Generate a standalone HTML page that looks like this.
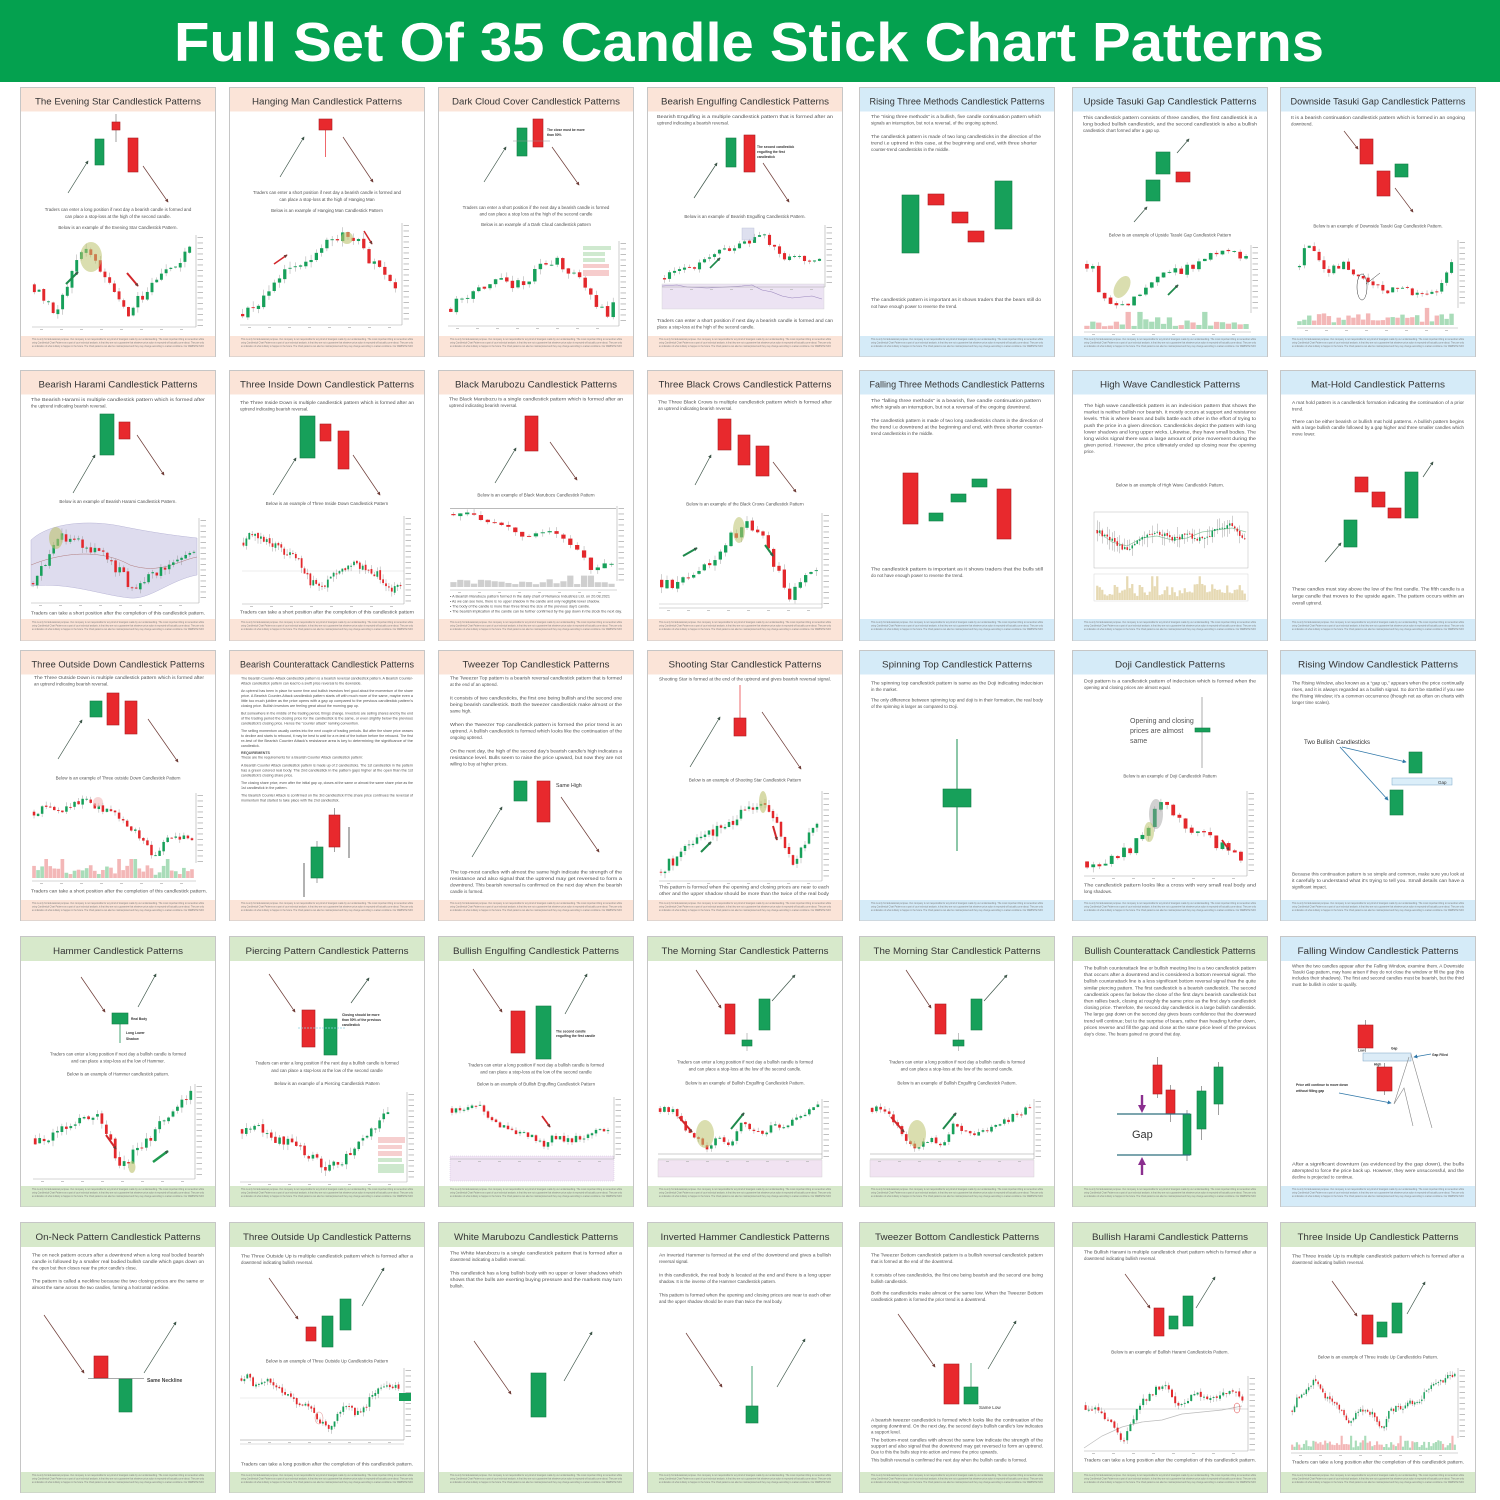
<!DOCTYPE html>
<html><head><meta charset="utf-8"><style>
html,body{margin:0;padding:0;background:#fff}
svg{display:block}
.tt{font-family:"Liberation Sans",sans-serif;font-size:9.6px;fill:#353535;text-anchor:middle}
.p{font-family:"Liberation Sans",sans-serif;font-size:4.4px;fill:#525252}
.pc{font-family:"Liberation Sans",sans-serif;font-size:4.4px;fill:#525252;text-anchor:middle}
.ps{font-family:"Liberation Sans",sans-serif;font-size:3.6px;fill:#525252}
.ft{font-family:"Liberation Sans",sans-serif;font-size:2.6px;fill:#7d7d7d}
.an{font-family:"Liberation Sans",sans-serif;font-size:3.3px;fill:#333;font-weight:bold}
.cb{fill:#fff;stroke:#c6c6c6;stroke-width:1}
.g{fill:#17a05a;stroke:#127c45;stroke-width:.6}
.r{fill:#e8292d;stroke:#a91d20;stroke-width:.6}
.w{stroke:#777;stroke-width:.7}
.au{stroke:#3c5548;stroke-width:.7;fill:none;marker-end:url(#mu)}
.ad{stroke:#6e3b36;stroke-width:.7;fill:none;marker-end:url(#md)}
.ab{stroke:#2f77a8;stroke-width:.8;fill:none;marker-end:url(#mb)}
</style></head><body>
<svg width="1500" height="1500" viewBox="0 0 1500 1500" xmlns="http://www.w3.org/2000/svg">
<defs>
<marker id="mu" viewBox="0 0 6 6" refX="5" refY="3" markerWidth="3.5" markerHeight="3.5" markerUnits="userSpaceOnUse" orient="auto"><path d="M0,0L6,3L0,6z" fill="#3c5548"/></marker>
<marker id="md" viewBox="0 0 6 6" refX="5" refY="3" markerWidth="3.5" markerHeight="3.5" markerUnits="userSpaceOnUse" orient="auto"><path d="M0,0L6,3L0,6z" fill="#6e3b36"/></marker>
<marker id="mb" viewBox="0 0 6 6" refX="5" refY="3" markerWidth="4" markerHeight="4" markerUnits="userSpaceOnUse" orient="auto"><path d="M0,0L6,3L0,6z" fill="#2f77a8"/></marker>
</defs>
<rect x="0" y="0" width="1500" height="1500" fill="#fff"/>
<rect x="0" y="0" width="1500" height="82" fill="#04a14f"/>
<text x="174" y="61" font-family="Liberation Sans, sans-serif" font-weight="bold" font-size="55" fill="#fff" textLength="1150" lengthAdjust="spacingAndGlyphs">Full Set Of 35 Candle Stick Chart Patterns</text>

<!-- ================= ROW 0 ================= -->
<!-- R0C0 Evening Star -->
<g transform="translate(20,87)">
<rect class="cb" x="0.5" y="0.5" width="195" height="269"/>
<rect fill="#fbe4d8" x="1" y="1" width="194" height="23.5"/>
<rect fill="#fbe4d8" x="1" y="249" width="194" height="20.5"/>
<text class="tt" x="98" y="17.5" textLength="166" lengthAdjust="spacingAndGlyphs">The Evening Star Candlestick Patterns</text>
<rect class="g" x="75" y="52" width="9" height="26"/>
<line class="w" x1="96" y1="27" x2="96" y2="55"/>
<rect class="r" x="92" y="35" width="8" height="8"/>
<rect class="r" x="108" y="51" width="10" height="34"/>
<line class="au" x1="48" y1="106" x2="68" y2="74"/>
<line class="ad" x1="123" y1="79" x2="148" y2="115"/>
<text class="pc" x="98" y="124">Traders can enter a long position if next day a bearish candle is formed and</text>
<text class="pc" x="98" y="131">can place a stop-loss at the high of the second candle.</text>
<text class="pc" x="98" y="142">Below is an example of the Evening Star Candlestick Pattern.</text>
<g id="k00"></g>
<ellipse cx="71" cy="170" rx="11" ry="15" fill="#bcc26e" opacity=".55"/>
<path d="M46,197 L58,185" stroke="#1f8a4c" stroke-width="2" marker-end="url(#mu)"/>
<path d="M107,186 L118,199" stroke="#d2272b" stroke-width="2" marker-end="url(#md)"/>
<text class="ft" x="12" y="253" textLength="172" lengthAdjust="spacingAndGlyphs">This is only for Educational purpose. Our company is not responsible for any kind of loss/gain made by our understanding. The most important thing to remember while</text>
<text class="ft" x="12" y="256.5" textLength="172" lengthAdjust="spacingAndGlyphs">using Candlestick Chart Patterns as a part of your technical analysis, is that they are not a guarantee that whatever price action is expected will actually come about. They are only</text>
<text class="ft" x="12" y="260" textLength="172" lengthAdjust="spacingAndGlyphs">an indication of what is likely to happen in the future. The Chart patterns can also be misinterpreted and they may change according to market conditions. Our WEBSITE INFO</text>
</g>

<!-- R0C1 Hanging Man -->
<g transform="translate(229,87)">
<rect class="cb" x="0.5" y="0.5" width="195" height="269"/>
<rect fill="#fbe4d8" x="1" y="1" width="194" height="23.5"/>
<rect fill="#fbe4d8" x="1" y="249" width="194" height="20.5"/>
<text class="tt" x="98" y="17.5" textLength="150" lengthAdjust="spacingAndGlyphs">Hanging Man Candlestick Patterns</text>
<line class="w" x1="96.5" y1="43" x2="96.5" y2="70" style="stroke:#e8292d"/>
<rect class="r" x="90" y="32" width="13" height="11"/>
<line class="au" x1="51" y1="90" x2="75" y2="50"/>
<line class="ad" x1="114" y1="50" x2="144" y2="95"/>
<text class="pc" x="98" y="107">Traders can enter a short position if next day a bearish candle is formed and</text>
<text class="pc" x="98" y="114">can place a stop-loss at the high of Hanging Man</text>
<text class="pc" x="98" y="125">Below is an example of Hanging Man Candlestick Pattern</text>
<g id="k01"></g>
<ellipse cx="118" cy="151" rx="6" ry="6" fill="#bcc26e" opacity=".6"/>
<path d="M45,177 L58,168" stroke="#d2272b" stroke-width="1.5" marker-end="url(#md)"/>
<path d="M135,144 L143,157" stroke="#d2272b" stroke-width="1.5" marker-end="url(#md)"/>
<text class="ft" x="12" y="253" textLength="172" lengthAdjust="spacingAndGlyphs">This is only for Educational purpose. Our company is not responsible for any kind of loss/gain made by our understanding. The most important thing to remember while</text>
<text class="ft" x="12" y="256.5" textLength="172" lengthAdjust="spacingAndGlyphs">using Candlestick Chart Patterns as a part of your technical analysis, is that they are not a guarantee that whatever price action is expected will actually come about. They are only</text>
<text class="ft" x="12" y="260" textLength="172" lengthAdjust="spacingAndGlyphs">an indication of what is likely to happen in the future. The Chart patterns can also be misinterpreted and they may change according to market conditions. Our WEBSITE INFO</text>
</g>

<!-- R0C2 Dark Cloud -->
<g transform="translate(438,87)">
<rect class="cb" x="0.5" y="0.5" width="195" height="269"/>
<rect fill="#fbe4d8" x="1" y="1" width="194" height="23.5"/>
<rect fill="#fbe4d8" x="1" y="249" width="194" height="20.5"/>
<text class="tt" x="98" y="17.5" textLength="168" lengthAdjust="spacingAndGlyphs">Dark Cloud Cover Candlestick Patterns</text>
<rect class="g" x="79" y="41" width="10" height="28"/>
<rect class="r" x="95" y="32" width="10" height="28"/>
<line x1="75" y1="54" x2="112" y2="54" stroke="#999" stroke-width=".6"/>
<text class="an" x="109" y="44">The close must be more</text>
<text class="an" x="109" y="49">than 50%</text>
<line class="au" x1="46" y1="95" x2="68" y2="60"/>
<line class="ad" x1="114" y1="60" x2="141" y2="98"/>
<text class="pc" x="98" y="122">Traders can enter a short position if the next day a bearish candle is formed</text>
<text class="pc" x="98" y="128.5">and can place a stop loss at the high of the second candle</text>
<text class="pc" x="98" y="139">Below is an example of a Dark Cloud candlestick pattern</text>
<g id="k02"></g>
<rect x="145" y="159" width="28" height="4" fill="#cfe9cf"/><rect x="145" y="165" width="22" height="4" fill="#cfe9cf"/><rect x="145" y="171" width="22" height="4" fill="#cfe9cf"/><rect x="145" y="177" width="26" height="4" fill="#f6cccc"/><rect x="145" y="183" width="26" height="6" fill="#f6cccc"/>
<text class="ft" x="12" y="253" textLength="172" lengthAdjust="spacingAndGlyphs">This is only for Educational purpose. Our company is not responsible for any kind of loss/gain made by our understanding. The most important thing to remember while</text>
<text class="ft" x="12" y="256.5" textLength="172" lengthAdjust="spacingAndGlyphs">using Candlestick Chart Patterns as a part of your technical analysis, is that they are not a guarantee that whatever price action is expected will actually come about. They are only</text>
<text class="ft" x="12" y="260" textLength="172" lengthAdjust="spacingAndGlyphs">an indication of what is likely to happen in the future. The Chart patterns can also be misinterpreted and they may change according to market conditions. Our WEBSITE INFO</text>
</g>

<!-- R0C3 Bearish Engulfing -->
<g transform="translate(647,87)">
<rect class="cb" x="0.5" y="0.5" width="195" height="269"/>
<rect fill="#fbe4d8" x="1" y="1" width="194" height="23.5"/>
<rect fill="#fbe4d8" x="1" y="249" width="194" height="20.5"/>
<text class="tt" x="98" y="17.5" textLength="168" lengthAdjust="spacingAndGlyphs">Bearish Engulfing Candlestick Patterns</text>
<text class="p" x="10" y="31" textLength="176" lengthAdjust="spacingAndGlyphs">Bearish Engulfing is a multiple candlestick pattern that is formed after an</text>
<text class="p" x="10" y="37.5">uptrend indicating a bearish reversal.</text>
<rect class="g" x="79" y="51" width="10" height="29"/>
<rect class="r" x="97" y="48" width="11" height="37"/>
<text class="an" x="110" y="61">The second candlestick</text>
<text class="an" x="110" y="66">engulfing the first</text>
<text class="an" x="110" y="71">candlestick</text>
<line class="au" x1="47" y1="111" x2="70" y2="76"/>
<line class="ad" x1="116" y1="76" x2="142" y2="115"/>
<text class="pc" x="98" y="131">Below is an example of Bearish Engulfing Candlestick Pattern.</text>
<rect x="15" y="197" width="162" height="25" fill="#ece3f3" stroke="#cfcfcf" stroke-width=".4"/>
<polyline points="15,199 30,198 40,200 60,201 80,200 95,199 105,198 115,203 125,205 135,209 145,211 155,210 165,209 175,212" fill="none" stroke="#9a86bd" stroke-width=".6"/>
<g id="k03"></g>
<rect x="95" y="141" width="12" height="12" fill="#c9cde6" opacity=".6" stroke="#8890b8" stroke-width=".4"/>
<path d="M63,181 L73,171" stroke="#1f8a4c" stroke-width="1.6" marker-end="url(#mu)"/>
<text class="p" x="10" y="235" textLength="176" lengthAdjust="spacingAndGlyphs">Traders can enter a short position if next day a bearish candle is formed and can</text>
<text class="p" x="10" y="241.5">place a stop-loss at the high of the second candle.</text>
<text class="ft" x="12" y="253" textLength="172" lengthAdjust="spacingAndGlyphs">This is only for Educational purpose. Our company is not responsible for any kind of loss/gain made by our understanding. The most important thing to remember while</text>
<text class="ft" x="12" y="256.5" textLength="172" lengthAdjust="spacingAndGlyphs">using Candlestick Chart Patterns as a part of your technical analysis, is that they are not a guarantee that whatever price action is expected will actually come about. They are only</text>
<text class="ft" x="12" y="260" textLength="172" lengthAdjust="spacingAndGlyphs">an indication of what is likely to happen in the future. The Chart patterns can also be misinterpreted and they may change according to market conditions. Our WEBSITE INFO</text>
</g>

<!-- R0C4 Rising Three Methods -->
<g transform="translate(859,87)">
<rect class="cb" x="0.5" y="0.5" width="195" height="269"/>
<rect fill="#d5ebf8" x="1" y="1" width="194" height="23.5"/>
<rect fill="#d5ebf8" x="1" y="249" width="194" height="20.5"/>
<text class="tt" x="98" y="17.5" textLength="175" lengthAdjust="spacingAndGlyphs">Rising Three Methods Candlestick Patterns</text>
<text class="p" x="12" y="31" textLength="170" lengthAdjust="spacingAndGlyphs">The “rising three methods” is a bullish, five candle continuation pattern which</text>
<text class="p" x="12" y="37.5">signals an interruption, but not a reversal, of the ongoing uptrend.</text>
<text class="p" x="12" y="51" textLength="170" lengthAdjust="spacingAndGlyphs">The candlestick pattern is made of two long candlesticks in the direction of the</text>
<text class="p" x="12" y="57.5" textLength="166" lengthAdjust="spacingAndGlyphs">trend i.e uptrend in this case, at the beginning and end, with three shorter</text>
<text class="p" x="12" y="64">counter-trend candlesticks in the middle.</text>
<rect class="g" x="43" y="108" width="17" height="58"/>
<rect class="r" x="69" y="107" width="16" height="11"/>
<rect class="r" x="93" y="125" width="16" height="11"/>
<rect class="r" x="109" y="144" width="16" height="11"/>
<rect class="g" x="136" y="94" width="17" height="48"/>
<text class="p" x="12" y="214" textLength="170" lengthAdjust="spacingAndGlyphs">The candlestick pattern is important as it shows traders that the bears still do</text>
<text class="p" x="12" y="221">not have enough power to reverse the trend.</text>
<text class="ft" x="12" y="253" textLength="172" lengthAdjust="spacingAndGlyphs">This is only for Educational purpose. Our company is not responsible for any kind of loss/gain made by our understanding. The most important thing to remember while</text>
<text class="ft" x="12" y="256.5" textLength="172" lengthAdjust="spacingAndGlyphs">using Candlestick Chart Patterns as a part of your technical analysis, is that they are not a guarantee that whatever price action is expected will actually come about. They are only</text>
<text class="ft" x="12" y="260" textLength="172" lengthAdjust="spacingAndGlyphs">an indication of what is likely to happen in the future. The Chart patterns can also be misinterpreted and they may change according to market conditions. Our WEBSITE INFO</text>
</g>

<!-- R0C5 Upside Tasuki Gap -->
<g transform="translate(1072,87)">
<rect class="cb" x="0.5" y="0.5" width="195" height="269"/>
<rect fill="#d5ebf8" x="1" y="1" width="194" height="23.5"/>
<rect fill="#d5ebf8" x="1" y="249" width="194" height="20.5"/>
<text class="tt" x="98" y="17.5" textLength="173" lengthAdjust="spacingAndGlyphs">Upside Tasuki Gap Candlestick Patterns</text>
<text class="p" x="11" y="32" textLength="174" lengthAdjust="spacingAndGlyphs">This candlestick pattern consists of three candles, the first candlestick is a</text>
<text class="p" x="11" y="38.5" textLength="174" lengthAdjust="spacingAndGlyphs">long bodied bullish candlestick, and the second candlestick is also a bullish</text>
<text class="p" x="11" y="45">candlestick chart formed after a gap up.</text>
<rect class="g" x="74" y="93" width="14" height="21"/>
<rect class="g" x="84" y="65" width="14" height="22"/>
<rect class="r" x="104" y="85" width="14" height="10"/>
<line class="au" x1="62" y1="135" x2="75" y2="120"/>
<line class="au" x1="105" y1="66" x2="117" y2="52"/>
<text class="pc" x="98" y="149.5">Below is an example of Upside Tasuki Gap Candlestick Pattern</text>
<g id="k05"></g>
<ellipse cx="50" cy="200" rx="7" ry="12" transform="rotate(30 50 200)" fill="#bcc26e" opacity=".55"/>
<path d="M96,208 L106,198" stroke="#1f8a4c" stroke-width="1.8" marker-end="url(#mu)"/>
<text class="ft" x="12" y="253" textLength="172" lengthAdjust="spacingAndGlyphs">This is only for Educational purpose. Our company is not responsible for any kind of loss/gain made by our understanding. The most important thing to remember while</text>
<text class="ft" x="12" y="256.5" textLength="172" lengthAdjust="spacingAndGlyphs">using Candlestick Chart Patterns as a part of your technical analysis, is that they are not a guarantee that whatever price action is expected will actually come about. They are only</text>
<text class="ft" x="12" y="260" textLength="172" lengthAdjust="spacingAndGlyphs">an indication of what is likely to happen in the future. The Chart patterns can also be misinterpreted and they may change according to market conditions. Our WEBSITE INFO</text>
</g>

<!-- R0C6 Downside Tasuki Gap -->
<g transform="translate(1280,87)">
<rect class="cb" x="0.5" y="0.5" width="195" height="269"/>
<rect fill="#d5ebf8" x="1" y="1" width="194" height="23.5"/>
<rect fill="#d5ebf8" x="1" y="249" width="194" height="20.5"/>
<text class="tt" x="98" y="17.5" textLength="175" lengthAdjust="spacingAndGlyphs">Downside Tasuki Gap Candlestick Patterns</text>
<text class="p" x="11" y="32" textLength="174" lengthAdjust="spacingAndGlyphs">It is a bearish continuation candlestick pattern which is formed in an ongoing</text>
<text class="p" x="11" y="38.5">downtrend.</text>
<rect class="r" x="80" y="52" width="13" height="25"/>
<rect class="r" x="97" y="84" width="13" height="25"/>
<rect class="g" x="115" y="77" width="13" height="13"/>
<line class="ad" x1="64" y1="44" x2="78" y2="62"/>
<line class="ad" x1="115" y1="101" x2="133" y2="125"/>
<text class="pc" x="98" y="140.5">Below is an example of Downside Tasuki Gap Candlestick Pattern.</text>
<g id="k06"></g>
<ellipse cx="82" cy="200" rx="5" ry="13" fill="none" stroke="#333" stroke-width=".5"/>
<line x1="86" y1="197" x2="100" y2="186" stroke="#333" stroke-width=".5"/>
<text class="ft" x="12" y="253" textLength="172" lengthAdjust="spacingAndGlyphs">This is only for Educational purpose. Our company is not responsible for any kind of loss/gain made by our understanding. The most important thing to remember while</text>
<text class="ft" x="12" y="256.5" textLength="172" lengthAdjust="spacingAndGlyphs">using Candlestick Chart Patterns as a part of your technical analysis, is that they are not a guarantee that whatever price action is expected will actually come about. They are only</text>
<text class="ft" x="12" y="260" textLength="172" lengthAdjust="spacingAndGlyphs">an indication of what is likely to happen in the future. The Chart patterns can also be misinterpreted and they may change according to market conditions. Our WEBSITE INFO</text>
</g>

<!-- ================= ROW 1 ================= -->
<!-- R1C0 Bearish Harami -->
<g transform="translate(20,370)">
<rect class="cb" x="0.5" y="0.5" width="195" height="270"/>
<rect fill="#fbe4d8" x="1" y="1" width="194" height="23.5"/>
<rect fill="#fbe4d8" x="1" y="249" width="194" height="21.5"/>
<text class="tt" x="98" y="17.5" textLength="159" lengthAdjust="spacingAndGlyphs">Bearish Harami Candlestick Patterns</text>
<text class="p" x="11" y="31" textLength="174" lengthAdjust="spacingAndGlyphs">The Bearish Harami is multiple candlestick pattern which is formed after</text>
<text class="p" x="11" y="37.5">the uptrend indicating bearish reversal.</text>
<rect class="g" x="80" y="44" width="14" height="41"/>
<rect class="r" x="99" y="52" width="11" height="17"/>
<line class="au" x1="53" y1="123" x2="75" y2="85"/>
<line class="ad" x1="117" y1="65" x2="144" y2="105"/>
<text class="pc" x="98" y="133">Below is an example of Bearish Harami Candlestick Pattern.</text>
<path d="M11,170 C30,152 70,150 100,156 C130,162 150,165 177,168 L177,205 C150,210 130,230 110,228 C80,225 50,212 11,216 Z" fill="#dedcee" stroke="#b8b5d6" stroke-width=".5"/>
<path d="M11,195 C40,183 80,178 110,195 C140,205 160,190 177,187" fill="none" stroke="#b07a7a" stroke-width=".5"/>
<g id="k10"></g>
<ellipse cx="36" cy="168" rx="7" ry="11" fill="#bcc26e" opacity=".6"/>
<text class="p" x="11" y="244.5" textLength="174" lengthAdjust="spacingAndGlyphs">Traders can take a short position after the completion of this candlestick pattern.</text>
<text class="ft" x="12" y="253" textLength="172" lengthAdjust="spacingAndGlyphs">This is only for Educational purpose. Our company is not responsible for any kind of loss/gain made by our understanding. The most important thing to remember while</text>
<text class="ft" x="12" y="256.5" textLength="172" lengthAdjust="spacingAndGlyphs">using Candlestick Chart Patterns as a part of your technical analysis, is that they are not a guarantee that whatever price action is expected will actually come about. They are only</text>
<text class="ft" x="12" y="260" textLength="172" lengthAdjust="spacingAndGlyphs">an indication of what is likely to happen in the future. The Chart patterns can also be misinterpreted and they may change according to market conditions. Our WEBSITE INFO</text>
</g>

<!-- R1C1 Three Inside Down -->
<g transform="translate(229,370)">
<rect class="cb" x="0.5" y="0.5" width="195" height="270"/>
<rect fill="#fbe4d8" x="1" y="1" width="194" height="23.5"/>
<rect fill="#fbe4d8" x="1" y="249" width="194" height="21.5"/>
<text class="tt" x="98" y="17.5" textLength="174" lengthAdjust="spacingAndGlyphs">Three Inside Down Candlestick Patterns</text>
<text class="p" x="11" y="34" textLength="174" lengthAdjust="spacingAndGlyphs">The Three Inside Down is multiple candlestick pattern which is formed after an</text>
<text class="p" x="11" y="40.5">uptrend indicating bearish reversal.</text>
<rect class="g" x="71" y="46" width="15" height="42"/>
<rect class="r" x="91" y="54" width="11" height="17"/>
<rect class="r" x="109" y="61" width="11" height="38"/>
<line class="au" x1="44" y1="125" x2="67" y2="88"/>
<line class="ad" x1="124" y1="85" x2="151" y2="125"/>
<text class="pc" x="98" y="135">Below is an example of Three Inside Down Candlestick Pattern</text>
<line x1="13" y1="201" x2="175" y2="201" stroke="#ddd" stroke-width=".5"/>
<g id="k11"></g>
<text class="p" x="11" y="243.5" textLength="174" lengthAdjust="spacingAndGlyphs">Traders can take a short position after the completion of this candlestick pattern</text>
<text class="ft" x="12" y="253" textLength="172" lengthAdjust="spacingAndGlyphs">This is only for Educational purpose. Our company is not responsible for any kind of loss/gain made by our understanding. The most important thing to remember while</text>
<text class="ft" x="12" y="256.5" textLength="172" lengthAdjust="spacingAndGlyphs">using Candlestick Chart Patterns as a part of your technical analysis, is that they are not a guarantee that whatever price action is expected will actually come about. They are only</text>
<text class="ft" x="12" y="260" textLength="172" lengthAdjust="spacingAndGlyphs">an indication of what is likely to happen in the future. The Chart patterns can also be misinterpreted and they may change according to market conditions. Our WEBSITE INFO</text>
</g>

<!-- R1C2 Black Marubozu -->
<g transform="translate(438,370)">
<rect class="cb" x="0.5" y="0.5" width="195" height="270"/>
<rect fill="#fbe4d8" x="1" y="1" width="194" height="23.5"/>
<rect fill="#fbe4d8" x="1" y="249" width="194" height="21.5"/>
<text class="tt" x="98" y="17.5" textLength="162" lengthAdjust="spacingAndGlyphs">Black Marubozu Candlestick Patterns</text>
<text class="p" x="11" y="30.5" textLength="174" lengthAdjust="spacingAndGlyphs">The Black Marubozu is a single candlestick pattern which is formed after an</text>
<text class="p" x="11" y="37">uptrend indicating bearish reversal.</text>
<rect class="r" x="87" y="46" width="13" height="35"/>
<line class="au" x1="57" y1="113" x2="78" y2="78"/>
<line class="ad" x1="112" y1="72" x2="139" y2="110"/>
<text class="pc" x="98" y="126.5">Below is an example of Black Marubozu Candlestick Pattern</text>
<line x1="12" y1="138.5" x2="178" y2="138.5" stroke="#777" stroke-width=".5"/>
<g id="k12"></g>
<text class="ps" x="12" y="227.5" textLength="160" lengthAdjust="spacingAndGlyphs">• A Bearish Marubozu pattern formed in the daily chart of Reliance Industries Ltd. on 20.08.2021</text>
<text class="ps" x="12" y="232.5" textLength="150" lengthAdjust="spacingAndGlyphs">• As we can see here, there is no upper shadow in the candle and only negligible lower shadow.</text>
<text class="ps" x="12" y="237.5" textLength="140" lengthAdjust="spacingAndGlyphs">• The body of the candle is more than three times the size of the previous day's candle.</text>
<text class="ps" x="12" y="242.5" textLength="172" lengthAdjust="spacingAndGlyphs">• The bearish implication of the candle can be further confirmed by the gap down in the stock the next day.</text>
<text class="ft" x="12" y="253" textLength="172" lengthAdjust="spacingAndGlyphs">This is only for Educational purpose. Our company is not responsible for any kind of loss/gain made by our understanding. The most important thing to remember while</text>
<text class="ft" x="12" y="256.5" textLength="172" lengthAdjust="spacingAndGlyphs">using Candlestick Chart Patterns as a part of your technical analysis, is that they are not a guarantee that whatever price action is expected will actually come about. They are only</text>
<text class="ft" x="12" y="260" textLength="172" lengthAdjust="spacingAndGlyphs">an indication of what is likely to happen in the future. The Chart patterns can also be misinterpreted and they may change according to market conditions. Our WEBSITE INFO</text>
</g>

<!-- R1C3 Three Black Crows -->
<g transform="translate(647,370)">
<rect class="cb" x="0.5" y="0.5" width="195" height="270"/>
<rect fill="#fbe4d8" x="1" y="1" width="194" height="23.5"/>
<rect fill="#fbe4d8" x="1" y="249" width="194" height="21.5"/>
<text class="tt" x="98" y="17.5" textLength="173" lengthAdjust="spacingAndGlyphs">Three Black Crows Candlestick Patterns</text>
<text class="p" x="11" y="33.5" textLength="174" lengthAdjust="spacingAndGlyphs">The Three Black Crows is multiple candlestick pattern which is formed after</text>
<text class="p" x="11" y="40">an uptrend indicating bearish reversal.</text>
<rect class="r" x="71" y="49" width="13" height="31"/>
<rect class="r" x="91" y="65" width="12" height="30"/>
<rect class="r" x="109" y="76" width="13" height="30"/>
<line class="au" x1="48" y1="115" x2="64" y2="85"/>
<line class="ad" x1="126" y1="92" x2="149" y2="122"/>
<text class="pc" x="98" y="135.5">Below is an example of the Black Crows Candlestick Pattern</text>
<line x1="12" y1="234" x2="175" y2="234" stroke="#aaa" stroke-width=".4"/>
<g id="k13"></g>
<ellipse cx="92" cy="160" rx="6" ry="13" fill="#bcc26e" opacity=".55"/>
<path d="M36,186 L50,178" stroke="#1f8a4c" stroke-width="2" marker-end="url(#mu)"/>
<path d="M118,175 L126,186" stroke="#1f8a4c" stroke-width="2" marker-end="url(#mu)"/>
<text class="ft" x="12" y="253" textLength="172" lengthAdjust="spacingAndGlyphs">This is only for Educational purpose. Our company is not responsible for any kind of loss/gain made by our understanding. The most important thing to remember while</text>
<text class="ft" x="12" y="256.5" textLength="172" lengthAdjust="spacingAndGlyphs">using Candlestick Chart Patterns as a part of your technical analysis, is that they are not a guarantee that whatever price action is expected will actually come about. They are only</text>
<text class="ft" x="12" y="260" textLength="172" lengthAdjust="spacingAndGlyphs">an indication of what is likely to happen in the future. The Chart patterns can also be misinterpreted and they may change according to market conditions. Our WEBSITE INFO</text>
</g>

<!-- R1C4 Falling Three Methods -->
<g transform="translate(859,370)">
<rect class="cb" x="0.5" y="0.5" width="195" height="270"/>
<rect fill="#d5ebf8" x="1" y="1" width="194" height="23.5"/>
<rect fill="#d5ebf8" x="1" y="249" width="194" height="21.5"/>
<text class="tt" x="98" y="17.5" textLength="175" lengthAdjust="spacingAndGlyphs">Falling Three Methods Candlestick Patterns</text>
<text class="p" x="12" y="32" textLength="170" lengthAdjust="spacingAndGlyphs">The “falling three methods” is a bearish, five candle continuation pattern</text>
<text class="p" x="12" y="38.5" textLength="160" lengthAdjust="spacingAndGlyphs">which signals an interruption, but not a reversal of the ongoing downtrend.</text>
<text class="p" x="12" y="52" textLength="172" lengthAdjust="spacingAndGlyphs">The candlestick pattern is made of two long candlesticks charts in the direction of</text>
<text class="p" x="12" y="58.5" textLength="172" lengthAdjust="spacingAndGlyphs">the trend i.e downtrend at the beginning and end, with three shorter counter-</text>
<text class="p" x="12" y="65">trend candlesticks in the middle.</text>
<rect class="r" x="44" y="103" width="15" height="51"/>
<rect class="g" x="70" y="143" width="14" height="8"/>
<rect class="g" x="92" y="124" width="15" height="8"/>
<rect class="g" x="113" y="109" width="15" height="8"/>
<rect class="r" x="138" y="119" width="14" height="50"/>
<text class="p" x="12" y="200.5" textLength="172" lengthAdjust="spacingAndGlyphs">The candlestick pattern is important as it shows traders that the bulls still</text>
<text class="p" x="12" y="207">do not have enough power to reverse the trend.</text>
<text class="ft" x="12" y="253" textLength="172" lengthAdjust="spacingAndGlyphs">This is only for Educational purpose. Our company is not responsible for any kind of loss/gain made by our understanding. The most important thing to remember while</text>
<text class="ft" x="12" y="256.5" textLength="172" lengthAdjust="spacingAndGlyphs">using Candlestick Chart Patterns as a part of your technical analysis, is that they are not a guarantee that whatever price action is expected will actually come about. They are only</text>
<text class="ft" x="12" y="260" textLength="172" lengthAdjust="spacingAndGlyphs">an indication of what is likely to happen in the future. The Chart patterns can also be misinterpreted and they may change according to market conditions. Our WEBSITE INFO</text>
</g>

<!-- R1C5 High Wave -->
<g transform="translate(1072,370)">
<rect class="cb" x="0.5" y="0.5" width="195" height="270"/>
<rect fill="#d5ebf8" x="1" y="1" width="194" height="23.5"/>
<rect fill="#d5ebf8" x="1" y="249" width="194" height="21.5"/>
<text class="tt" x="98" y="17.5" textLength="140" lengthAdjust="spacingAndGlyphs">High Wave Candlestick Patterns</text>
<text class="p" x="12" y="37" textLength="172" lengthAdjust="spacingAndGlyphs">The high wave candlestick pattern is an indecision pattern that shows the</text>
<text class="p" x="12" y="43.6" textLength="172" lengthAdjust="spacingAndGlyphs">market is neither bullish nor bearish. It mostly occurs at support and resistance</text>
<text class="p" x="12" y="50.2" textLength="172" lengthAdjust="spacingAndGlyphs">levels. This is where bears and bulls battle each other in the effort of trying to</text>
<text class="p" x="12" y="56.8" textLength="172" lengthAdjust="spacingAndGlyphs">push the price in a given direction. Candlesticks depict the pattern with long</text>
<text class="p" x="12" y="63.4" textLength="172" lengthAdjust="spacingAndGlyphs">lower shadows and long upper wicks. Likewise, they have small bodies. The</text>
<text class="p" x="12" y="70" textLength="172" lengthAdjust="spacingAndGlyphs">long wicks signal there was a large amount of price movement during the</text>
<text class="p" x="12" y="76.6" textLength="172" lengthAdjust="spacingAndGlyphs">given period. However, the price ultimately ended up closing near the opening</text>
<text class="p" x="12" y="83.2">price.</text>
<text class="pc" x="98" y="116.5">Below is an example of High Wave Candlestick Pattern.</text>
<rect x="22" y="142" width="154" height="56" fill="none" stroke="#aaa" stroke-width=".4"/>
<rect x="22" y="204" width="154" height="27" fill="none" stroke="#ccc" stroke-width=".4"/>
<polyline points="24,160 40,172 55,176 70,168 85,166 100,170 115,168 130,162 145,160 160,158 174,162" fill="none" stroke="#8fc9a2" stroke-width=".7"/>
<g id="k15"></g>
<text class="ft" x="12" y="253" textLength="172" lengthAdjust="spacingAndGlyphs">This is only for Educational purpose. Our company is not responsible for any kind of loss/gain made by our understanding. The most important thing to remember while</text>
<text class="ft" x="12" y="256.5" textLength="172" lengthAdjust="spacingAndGlyphs">using Candlestick Chart Patterns as a part of your technical analysis, is that they are not a guarantee that whatever price action is expected will actually come about. They are only</text>
<text class="ft" x="12" y="260" textLength="172" lengthAdjust="spacingAndGlyphs">an indication of what is likely to happen in the future. The Chart patterns can also be misinterpreted and they may change according to market conditions. Our WEBSITE INFO</text>
</g>

<!-- R1C6 Mat-Hold -->
<g transform="translate(1280,370)">
<rect class="cb" x="0.5" y="0.5" width="195" height="270"/>
<rect fill="#d5ebf8" x="1" y="1" width="194" height="23.5"/>
<rect fill="#d5ebf8" x="1" y="249" width="194" height="21.5"/>
<text class="tt" x="98" y="17.5" textLength="134" lengthAdjust="spacingAndGlyphs">Mat-Hold Candlestick Patterns</text>
<text class="p" x="12" y="34" textLength="172" lengthAdjust="spacingAndGlyphs">A mat hold pattern is a candlestick formation indicating the continuation of a prior</text>
<text class="p" x="12" y="40.5">trend.</text>
<text class="p" x="12" y="53" textLength="172" lengthAdjust="spacingAndGlyphs">There can be either bearish or bullish mat hold patterns. A bullish pattern begins</text>
<text class="p" x="12" y="59" textLength="172" lengthAdjust="spacingAndGlyphs">with a large bullish candle followed by a gap higher and three smaller candles which</text>
<text class="p" x="12" y="65.5">move lower.</text>
<rect class="g" x="64" y="150" width="13" height="27"/>
<rect class="r" x="75" y="107" width="13" height="15"/>
<rect class="r" x="92" y="122" width="13" height="15"/>
<rect class="r" x="108" y="138" width="13" height="10"/>
<rect class="g" x="125" y="102" width="13" height="46"/>
<line class="au" x1="45" y1="192" x2="61" y2="173"/>
<line class="au" x1="143" y1="107" x2="153" y2="92"/>
<text class="p" x="12" y="220.5" textLength="172" lengthAdjust="spacingAndGlyphs">These candles must stay above the low of the first candle. The fifth candle is a</text>
<text class="p" x="12" y="227.5" textLength="172" lengthAdjust="spacingAndGlyphs">large candle that moves to the upside again. The pattern occurs within an</text>
<text class="p" x="12" y="234.5">overall uptrend.</text>
<text class="ft" x="12" y="253" textLength="172" lengthAdjust="spacingAndGlyphs">This is only for Educational purpose. Our company is not responsible for any kind of loss/gain made by our understanding. The most important thing to remember while</text>
<text class="ft" x="12" y="256.5" textLength="172" lengthAdjust="spacingAndGlyphs">using Candlestick Chart Patterns as a part of your technical analysis, is that they are not a guarantee that whatever price action is expected will actually come about. They are only</text>
<text class="ft" x="12" y="260" textLength="172" lengthAdjust="spacingAndGlyphs">an indication of what is likely to happen in the future. The Chart patterns can also be misinterpreted and they may change according to market conditions. Our WEBSITE INFO</text>
</g>

<!-- ================= ROW 2 ================= -->
<!-- R2C0 Three Outside Down -->
<g transform="translate(20,650)">
<rect class="cb" x="0.5" y="0.5" width="195" height="270"/>
<rect fill="#fbe4d8" x="1" y="1" width="194" height="23.5"/>
<rect fill="#fbe4d8" x="1" y="250" width="194" height="20.5"/>
<text class="tt" x="98" y="17.5" textLength="173" lengthAdjust="spacingAndGlyphs">Three Outside Down Candlestick Patterns</text>
<text class="p" x="14" y="29" textLength="170" lengthAdjust="spacingAndGlyphs">The Three Outside Down is multiple candlestick pattern which is formed after</text>
<text class="p" x="14" y="35.5">an uptrend indicating bearish reversal.</text>
<rect class="g" x="70" y="51" width="12" height="16"/>
<rect class="r" x="87" y="43" width="12" height="32"/>
<rect class="r" x="105" y="51" width="12" height="33"/>
<line class="au" x1="38" y1="109" x2="62" y2="70"/>
<line class="ad" x1="128" y1="69" x2="158" y2="112"/>
<text class="pc" x="98" y="129.5">Below is an example of Three outside Down Candlestick Pattern</text>
<g id="k20"></g>
<ellipse cx="78" cy="152" rx="5" ry="5" fill="#f2b9b9" opacity=".6"/>
<text class="p" x="11" y="242.5" textLength="176" lengthAdjust="spacingAndGlyphs">Traders can take a short position after the completion of this candlestick pattern.</text>
<text class="ft" x="12" y="254" textLength="172" lengthAdjust="spacingAndGlyphs">This is only for Educational purpose. Our company is not responsible for any kind of loss/gain made by our understanding. The most important thing to remember while</text>
<text class="ft" x="12" y="257.5" textLength="172" lengthAdjust="spacingAndGlyphs">using Candlestick Chart Patterns as a part of your technical analysis, is that they are not a guarantee that whatever price action is expected will actually come about. They are only</text>
<text class="ft" x="12" y="261" textLength="172" lengthAdjust="spacingAndGlyphs">an indication of what is likely to happen in the future. The Chart patterns can also be misinterpreted and they may change according to market conditions. Our WEBSITE INFO</text>
</g>

<!-- R2C1 Bearish Counterattack -->
<g transform="translate(229,650)">
<rect class="cb" x="0.5" y="0.5" width="195" height="270"/>
<rect fill="#fbe4d8" x="1" y="1" width="194" height="23.5"/>
<rect fill="#fbe4d8" x="1" y="250" width="194" height="20.5"/>
<text class="tt" x="98" y="17.5" textLength="174" lengthAdjust="spacingAndGlyphs">Bearish Counterattack Candlestick Patterns</text>
<text class="ps" x="12" y="29.5" textLength="172" lengthAdjust="spacingAndGlyphs">The Bearish Counter-Attack candlestick pattern is a bearish reversal candlestick pattern. A Bearish Counter-</text>
<text class="ps" x="12" y="34.5">Attack candlestick pattern can lead to a swift price reversal to the downside.</text>
<text class="ps" x="12" y="42" textLength="172" lengthAdjust="spacingAndGlyphs">An uptrend has been in place for some time and bullish investors feel good about the momentum of the share</text>
<text class="ps" x="12" y="47" textLength="172" lengthAdjust="spacingAndGlyphs">price. A Bearish Counter-Attack candlestick pattern starts off with much more of the same, maybe even a</text>
<text class="ps" x="12" y="52" textLength="172" lengthAdjust="spacingAndGlyphs">little too much jubilee as the price opens with a gap up compared to the previous candlestick pattern's</text>
<text class="ps" x="12" y="57">closing price. Bullish investors are feeling great about the morning gap up.</text>
<text class="ps" x="12" y="64.5" textLength="172" lengthAdjust="spacingAndGlyphs">But somewhere in the middle of the trading period, things change. Investors are selling shares and by the end</text>
<text class="ps" x="12" y="69.5" textLength="172" lengthAdjust="spacingAndGlyphs">of the trading period the closing price for the candlestick is the same, or even slightly below the previous</text>
<text class="ps" x="12" y="74.5">candlestick's closing price. Hence the "counter attack" naming convention.</text>
<text class="ps" x="12" y="82" textLength="172" lengthAdjust="spacingAndGlyphs">The selling momentum usually carries into the next couple of trading periods. But after the share price ceases</text>
<text class="ps" x="12" y="87" textLength="172" lengthAdjust="spacingAndGlyphs">to decline and starts to rebound, it may be best to wait for a re-test of the bottom before the rebound. The first</text>
<text class="ps" x="12" y="92" textLength="172" lengthAdjust="spacingAndGlyphs">re-test of the Bearish Counter Attack's resistance area is key to determining the significance of the</text>
<text class="ps" x="12" y="97">candlestick.</text>
<text class="ps" x="12" y="104" font-weight="bold">REQUIREMENTS</text>
<text class="ps" x="12" y="108.5">These are the requirements for a Bearish Counter Attack candlestick pattern:</text>
<text class="ps" x="12" y="116.5" textLength="172" lengthAdjust="spacingAndGlyphs">A Bearish Counter Attack candlestick pattern is made up of 2 candlesticks. The 1st candlestick in the pattern</text>
<text class="ps" x="12" y="121.5" textLength="172" lengthAdjust="spacingAndGlyphs">has a green colored real body. The 2nd candlestick in the pattern gaps higher at the open than the 1st</text>
<text class="ps" x="12" y="126.5">candlestick's closing share price.</text>
<text class="ps" x="12" y="134" textLength="172" lengthAdjust="spacingAndGlyphs">The closing share price, even after the initial gap up, closes at the same or almost the same share price as the</text>
<text class="ps" x="12" y="139">1st candlestick in the pattern.</text>
<text class="ps" x="12" y="146.5" textLength="172" lengthAdjust="spacingAndGlyphs">The Bearish Counter Attack is confirmed on the 3rd candlestick if the share price continues the reversal of</text>
<text class="ps" x="12" y="151.5">momentum that started to take place with the 2nd candlestick.</text>
<line class="w" x1="88" y1="191" x2="88" y2="233"/>
<rect class="g" x="82" y="197" width="12" height="31"/>
<line class="w" x1="105.5" y1="158" x2="105.5" y2="202"/>
<rect class="r" x="100" y="165" width="11" height="32"/>
<line x1="75" y1="213" x2="75" y2="247" stroke="#666" stroke-width="1"/>
<line x1="120" y1="177" x2="120" y2="208" stroke="#666" stroke-width="1"/>
<text class="ft" x="12" y="254" textLength="172" lengthAdjust="spacingAndGlyphs">This is only for Educational purpose. Our company is not responsible for any kind of loss/gain made by our understanding. The most important thing to remember while</text>
<text class="ft" x="12" y="257.5" textLength="172" lengthAdjust="spacingAndGlyphs">using Candlestick Chart Patterns as a part of your technical analysis, is that they are not a guarantee that whatever price action is expected will actually come about. They are only</text>
<text class="ft" x="12" y="261" textLength="172" lengthAdjust="spacingAndGlyphs">an indication of what is likely to happen in the future. The Chart patterns can also be misinterpreted and they may change according to market conditions. Our WEBSITE INFO</text>
</g>

<!-- R2C2 Tweezer Top -->
<g transform="translate(438,650)">
<rect class="cb" x="0.5" y="0.5" width="195" height="270"/>
<rect fill="#fbe4d8" x="1" y="1" width="194" height="23.5"/>
<rect fill="#fbe4d8" x="1" y="250" width="194" height="20.5"/>
<text class="tt" x="98" y="17.5" textLength="147" lengthAdjust="spacingAndGlyphs">Tweezer Top Candlestick Patterns</text>
<text class="p" x="12" y="29.5" textLength="172" lengthAdjust="spacingAndGlyphs">The Tweezer Top pattern is a bearish reversal candlestick pattern that is formed</text>
<text class="p" x="12" y="36">at the end of an uptrend.</text>
<text class="p" x="12" y="49.5" textLength="172" lengthAdjust="spacingAndGlyphs">It consists of two candlesticks, the first one being bullish and the second one</text>
<text class="p" x="12" y="56" textLength="172" lengthAdjust="spacingAndGlyphs">being bearish candlestick. Both the tweezer candlestick make almost or the</text>
<text class="p" x="12" y="62.5">same high.</text>
<text class="p" x="12" y="76" textLength="172" lengthAdjust="spacingAndGlyphs">When the Tweezer Top candlestick pattern is formed the prior trend is an</text>
<text class="p" x="12" y="82.5" textLength="172" lengthAdjust="spacingAndGlyphs">uptrend. A bullish candlestick is formed which looks like the continuation of the</text>
<text class="p" x="12" y="89">ongoing uptrend.</text>
<text class="p" x="12" y="102.5" textLength="172" lengthAdjust="spacingAndGlyphs">On the next day, the high of the second day's bearish candle's high indicates a</text>
<text class="p" x="12" y="109" textLength="172" lengthAdjust="spacingAndGlyphs">resistance level. Bulls seem to raise the price upward, but now they are not</text>
<text class="p" x="12" y="115.5">willing to buy at higher prices.</text>
<rect class="g" x="76" y="131" width="13" height="20"/>
<rect class="r" x="99" y="131" width="13" height="41"/>
<text x="118" y="137" font-family="Liberation Sans, sans-serif" font-size="5.2" fill="#333">Same High</text>
<line class="au" x1="34" y1="207" x2="64" y2="157"/>
<line class="ad" x1="123" y1="147" x2="161" y2="202"/>
<text class="p" x="12" y="223.5" textLength="172" lengthAdjust="spacingAndGlyphs">The top-most candles with almost the same high indicate the strength of the</text>
<text class="p" x="12" y="230" textLength="172" lengthAdjust="spacingAndGlyphs">resistance and also signal that the uptrend may get reversed to form a</text>
<text class="p" x="12" y="236.5" textLength="172" lengthAdjust="spacingAndGlyphs">downtrend. This bearish reversal is confirmed on the next day when the bearish</text>
<text class="p" x="12" y="243">candle is formed.</text>
<text class="ft" x="12" y="254" textLength="172" lengthAdjust="spacingAndGlyphs">This is only for Educational purpose. Our company is not responsible for any kind of loss/gain made by our understanding. The most important thing to remember while</text>
<text class="ft" x="12" y="257.5" textLength="172" lengthAdjust="spacingAndGlyphs">using Candlestick Chart Patterns as a part of your technical analysis, is that they are not a guarantee that whatever price action is expected will actually come about. They are only</text>
<text class="ft" x="12" y="261" textLength="172" lengthAdjust="spacingAndGlyphs">an indication of what is likely to happen in the future. The Chart patterns can also be misinterpreted and they may change according to market conditions. Our WEBSITE INFO</text>
</g>

<!-- R2C3 Shooting Star -->
<g transform="translate(647,650)">
<rect class="cb" x="0.5" y="0.5" width="195" height="270"/>
<rect fill="#fbe4d8" x="1" y="1" width="194" height="23.5"/>
<rect fill="#fbe4d8" x="1" y="250" width="194" height="20.5"/>
<text class="tt" x="98" y="17.5" textLength="153" lengthAdjust="spacingAndGlyphs">Shooting Star Candlestick Patterns</text>
<text class="p" x="12" y="30.5" textLength="172" lengthAdjust="spacingAndGlyphs">Shooting Star is formed at the end of the uptrend and gives bearish reversal signal.</text>
<line class="w" x1="93" y1="35" x2="93" y2="68" style="stroke:#e8292d"/>
<rect class="r" x="87" y="68" width="12" height="18"/>
<line class="au" x1="43" y1="117" x2="73" y2="67"/>
<line class="ad" x1="115" y1="62" x2="154" y2="119"/>
<text class="pc" x="98" y="131.5">Below is an example of Shooting Star Candlestick Pattern</text>
<g id="k23"></g>
<ellipse cx="116" cy="152" rx="4" ry="11" fill="#bcc26e" opacity=".6"/>
<path d="M54,202 L64,192" stroke="#1f8a4c" stroke-width="2" marker-end="url(#mu)"/>
<path d="M126,176 L130,190" stroke="#d2272b" stroke-width="2" marker-end="url(#md)"/>
<text class="p" x="12" y="238.5" textLength="170" lengthAdjust="spacingAndGlyphs">This pattern is formed when the opening and closing prices are near to each</text>
<text class="p" x="12" y="245" textLength="170" lengthAdjust="spacingAndGlyphs">other and the upper shadow should be more than the twice of the real body</text>
<text class="ft" x="12" y="254" textLength="172" lengthAdjust="spacingAndGlyphs">This is only for Educational purpose. Our company is not responsible for any kind of loss/gain made by our understanding. The most important thing to remember while</text>
<text class="ft" x="12" y="257.5" textLength="172" lengthAdjust="spacingAndGlyphs">using Candlestick Chart Patterns as a part of your technical analysis, is that they are not a guarantee that whatever price action is expected will actually come about. They are only</text>
<text class="ft" x="12" y="261" textLength="172" lengthAdjust="spacingAndGlyphs">an indication of what is likely to happen in the future. The Chart patterns can also be misinterpreted and they may change according to market conditions. Our WEBSITE INFO</text>
</g>

<!-- R2C4 Spinning Top -->
<g transform="translate(859,650)">
<rect class="cb" x="0.5" y="0.5" width="195" height="270"/>
<rect fill="#d5ebf8" x="1" y="1" width="194" height="23.5"/>
<rect fill="#d5ebf8" x="1" y="250" width="194" height="20.5"/>
<text class="tt" x="98" y="17.5" textLength="150" lengthAdjust="spacingAndGlyphs">Spinning Top Candlestick Patterns</text>
<text class="p" x="12" y="34.5" textLength="172" lengthAdjust="spacingAndGlyphs">The spinning top candlestick pattern is same as the Doji indicating indecision</text>
<text class="p" x="12" y="41">in the market.</text>
<text class="p" x="12" y="51.5" textLength="172" lengthAdjust="spacingAndGlyphs">The only difference between spinning top and doji is in their formation, the real body</text>
<text class="p" x="12" y="58">of the spinning is larger as compared to Doji.</text>
<line x1="98" y1="89" x2="98" y2="201" stroke="#1a8f52" stroke-width="1"/>
<rect class="g" x="84" y="139" width="28" height="18"/>
<text class="ft" x="12" y="254" textLength="172" lengthAdjust="spacingAndGlyphs">This is only for Educational purpose. Our company is not responsible for any kind of loss/gain made by our understanding. The most important thing to remember while</text>
<text class="ft" x="12" y="257.5" textLength="172" lengthAdjust="spacingAndGlyphs">using Candlestick Chart Patterns as a part of your technical analysis, is that they are not a guarantee that whatever price action is expected will actually come about. They are only</text>
<text class="ft" x="12" y="261" textLength="172" lengthAdjust="spacingAndGlyphs">an indication of what is likely to happen in the future. The Chart patterns can also be misinterpreted and they may change according to market conditions. Our WEBSITE INFO</text>
</g>

<!-- R2C5 Doji -->
<g transform="translate(1072,650)">
<rect class="cb" x="0.5" y="0.5" width="195" height="270"/>
<rect fill="#d5ebf8" x="1" y="1" width="194" height="23.5"/>
<rect fill="#d5ebf8" x="1" y="250" width="194" height="20.5"/>
<text class="tt" x="98" y="17.5" textLength="110" lengthAdjust="spacingAndGlyphs">Doji Candlestick Patterns</text>
<text class="p" x="12" y="32.5" textLength="172" lengthAdjust="spacingAndGlyphs">Doji pattern is a candlestick pattern of indecision which is formed when the</text>
<text class="p" x="12" y="39">opening and closing prices are almost equal.</text>
<text x="58" y="73" font-family="Liberation Sans, sans-serif" font-size="7" fill="#555">Opening and closing</text>
<text x="58" y="83" font-family="Liberation Sans, sans-serif" font-size="7" fill="#555">prices are almost</text>
<text x="58" y="93" font-family="Liberation Sans, sans-serif" font-size="7" fill="#555">same</text>
<line x1="130" y1="47" x2="130" y2="118" stroke="#999" stroke-width=".8"/>
<rect class="g" x="123" y="78" width="15" height="4"/>
<text class="pc" x="98" y="127.5">Below is an example of Doji Candlestick Pattern</text>
<g id="k25"></g>
<ellipse cx="84" cy="164" rx="7" ry="15" fill="#9a9a9a" opacity=".45"/>
<ellipse cx="77" cy="182" rx="5" ry="10" fill="#bcc26e" opacity=".55"/>
<path d="M150,190 L157,200" stroke="#d2272b" stroke-width="1.8" marker-end="url(#md)"/>
<text class="p" x="12" y="236.5" textLength="172" lengthAdjust="spacingAndGlyphs">The candlestick pattern looks like a cross with very small real body and</text>
<text class="p" x="12" y="243">long shadows.</text>
<text class="ft" x="12" y="254" textLength="172" lengthAdjust="spacingAndGlyphs">This is only for Educational purpose. Our company is not responsible for any kind of loss/gain made by our understanding. The most important thing to remember while</text>
<text class="ft" x="12" y="257.5" textLength="172" lengthAdjust="spacingAndGlyphs">using Candlestick Chart Patterns as a part of your technical analysis, is that they are not a guarantee that whatever price action is expected will actually come about. They are only</text>
<text class="ft" x="12" y="261" textLength="172" lengthAdjust="spacingAndGlyphs">an indication of what is likely to happen in the future. The Chart patterns can also be misinterpreted and they may change according to market conditions. Our WEBSITE INFO</text>
</g>

<!-- R2C6 Rising Window -->
<g transform="translate(1280,650)">
<rect class="cb" x="0.5" y="0.5" width="195" height="270"/>
<rect fill="#d5ebf8" x="1" y="1" width="194" height="23.5"/>
<rect fill="#d5ebf8" x="1" y="250" width="194" height="20.5"/>
<text class="tt" x="98" y="17.5" textLength="160" lengthAdjust="spacingAndGlyphs">Rising Window Candlestick Patterns</text>
<text class="p" x="12" y="34.5" textLength="172" lengthAdjust="spacingAndGlyphs">The Rising Window, also known as a “gap up,” appears when the price continually</text>
<text class="p" x="12" y="41" textLength="172" lengthAdjust="spacingAndGlyphs">rises, and it is always regarded as a bullish signal. So don't be startled if you see</text>
<text class="p" x="12" y="47.5" textLength="172" lengthAdjust="spacingAndGlyphs">the Rising Window; it's a common occurrence (though not as often on charts with</text>
<text class="p" x="12" y="54">longer time scales).</text>
<text x="24" y="94" font-family="Liberation Sans, sans-serif" font-size="6" fill="#333">Two Bullish Candlesticks</text>
<line class="ab" x1="62" y1="97" x2="126" y2="112"/>
<line class="ab" x1="60" y1="97" x2="108" y2="150"/>
<rect class="g" x="129" y="102" width="13" height="21"/>
<rect x="112" y="128" width="60" height="7" fill="#dbeef9" stroke="#7fa9c9" stroke-width=".5"/>
<text x="158" y="134" font-family="Liberation Sans, sans-serif" font-size="4.5" fill="#333">Gap</text>
<rect class="g" x="110" y="140" width="13" height="25"/>
<text class="p" x="12" y="225.5" textLength="172" lengthAdjust="spacingAndGlyphs">Because this continuation pattern is so simple and common, make sure you look at</text>
<text class="p" x="12" y="232" textLength="172" lengthAdjust="spacingAndGlyphs">it carefully to understand what it's trying to tell you. Small details can have a</text>
<text class="p" x="12" y="238.5">significant impact.</text>
<text class="ft" x="12" y="254" textLength="172" lengthAdjust="spacingAndGlyphs">This is only for Educational purpose. Our company is not responsible for any kind of loss/gain made by our understanding. The most important thing to remember while</text>
<text class="ft" x="12" y="257.5" textLength="172" lengthAdjust="spacingAndGlyphs">using Candlestick Chart Patterns as a part of your technical analysis, is that they are not a guarantee that whatever price action is expected will actually come about. They are only</text>
<text class="ft" x="12" y="261" textLength="172" lengthAdjust="spacingAndGlyphs">an indication of what is likely to happen in the future. The Chart patterns can also be misinterpreted and they may change according to market conditions. Our WEBSITE INFO</text>
</g>

<!-- ================= ROW 3 ================= -->
<!-- R3C0 Hammer -->
<g transform="translate(20,936)">
<rect class="cb" x="0.5" y="0.5" width="195" height="270"/>
<rect fill="#d7e9cb" x="1" y="1" width="194" height="24"/>
<rect fill="#d7e9cb" x="1" y="250" width="194" height="20.5"/>
<text class="tt" x="98" y="18" textLength="130" lengthAdjust="spacingAndGlyphs">Hammer Candlestick Patterns</text>
<line x1="100" y1="88" x2="100" y2="107" stroke="#1a8f52" stroke-width=".8"/>
<rect class="g" x="92" y="77" width="16" height="11"/>
<text class="an" x="111" y="84" font-weight="normal">Real Body</text>
<text class="an" x="106" y="98" font-weight="normal">Long Lower</text>
<text class="an" x="106" y="104" font-weight="normal">Shadow</text>
<line class="ad" x1="61" y1="41" x2="85" y2="76"/>
<line class="au" x1="118" y1="71" x2="136" y2="38"/>
<text class="pc" x="98" y="119.5">Traders can enter a long position if next day a bullish candle is formed</text>
<text class="pc" x="98" y="126.5">and can place a stop-loss at the low of Hammer.</text>
<text class="pc" x="98" y="139.5">Below is an example of Hammer candlestick pattern.</text>
<g id="k30"></g>
<ellipse cx="112" cy="231" rx="3.5" ry="6" fill="#bcc26e" opacity=".6"/>
<path d="M86,199 L96,213" stroke="#d2272b" stroke-width="2" marker-end="url(#md)"/>
<path d="M133,226 L148,215" stroke="#1f9a50" stroke-width="2.5" marker-end="url(#mu)"/>
<text class="ft" x="12" y="254" textLength="172" lengthAdjust="spacingAndGlyphs">This is only for Educational purpose. Our company is not responsible for any kind of loss/gain made by our understanding. The most important thing to remember while</text>
<text class="ft" x="12" y="257.5" textLength="172" lengthAdjust="spacingAndGlyphs">using Candlestick Chart Patterns as a part of your technical analysis, is that they are not a guarantee that whatever price action is expected will actually come about. They are only</text>
<text class="ft" x="12" y="261" textLength="172" lengthAdjust="spacingAndGlyphs">an indication of what is likely to happen in the future. The Chart patterns can also be misinterpreted and they may change according to market conditions. Our WEBSITE INFO</text>
</g>

<!-- R3C1 Piercing -->
<g transform="translate(229,936)">
<rect class="cb" x="0.5" y="0.5" width="195" height="270"/>
<rect fill="#d7e9cb" x="1" y="1" width="194" height="24"/>
<rect fill="#d7e9cb" x="1" y="250" width="194" height="20.5"/>
<text class="tt" x="98" y="18" textLength="163" lengthAdjust="spacingAndGlyphs">Piercing Pattern Candlestick Patterns</text>
<rect class="r" x="73" y="74" width="13" height="37"/>
<rect class="g" x="95" y="83" width="13" height="36"/>
<line x1="69" y1="92" x2="117" y2="92" stroke="#8ccfe0" stroke-width=".8" stroke-dasharray="2,1"/>
<text class="an" x="113" y="80" font-weight="normal">Closing should be more</text>
<text class="an" x="113" y="85" font-weight="normal">than 50% of the previous</text>
<text class="an" x="113" y="90" font-weight="normal">candlestick</text>
<line class="ad" x1="40" y1="38" x2="66" y2="76"/>
<line class="au" x1="122" y1="67" x2="140" y2="42"/>
<text class="pc" x="98" y="128.5">Traders can enter a long position if the next day a bullish candle is formed</text>
<text class="pc" x="98" y="136">and can place a stop-loss at the low of the second candle</text>
<text class="pc" x="98" y="149">Below is an example of a Piercing Candlestick Pattern</text>
<g id="k31"></g>
<rect x="149" y="201" width="27" height="6" fill="#f6cfcf"/><rect x="149" y="209" width="24" height="4" fill="#f6cfcf"/><rect x="149" y="215" width="24" height="5" fill="#f6cfcf"/><rect x="149" y="222" width="24" height="4" fill="#cde8cd"/><rect x="149" y="228" width="26" height="9" fill="#cde8cd"/>
<text class="ft" x="12" y="254" textLength="172" lengthAdjust="spacingAndGlyphs">This is only for Educational purpose. Our company is not responsible for any kind of loss/gain made by our understanding. The most important thing to remember while</text>
<text class="ft" x="12" y="257.5" textLength="172" lengthAdjust="spacingAndGlyphs">using Candlestick Chart Patterns as a part of your technical analysis, is that they are not a guarantee that whatever price action is expected will actually come about. They are only</text>
<text class="ft" x="12" y="261" textLength="172" lengthAdjust="spacingAndGlyphs">an indication of what is likely to happen in the future. The Chart patterns can also be misinterpreted and they may change according to market conditions. Our WEBSITE INFO</text>
</g>

<!-- R3C2 Bullish Engulfing -->
<g transform="translate(438,936)">
<rect class="cb" x="0.5" y="0.5" width="195" height="270"/>
<rect fill="#d7e9cb" x="1" y="1" width="194" height="24"/>
<rect fill="#d7e9cb" x="1" y="250" width="194" height="20.5"/>
<text class="tt" x="98" y="18" textLength="166" lengthAdjust="spacingAndGlyphs">Bullish Engulfing Candlestick Patterns</text>
<rect class="r" x="73" y="75" width="14" height="42"/>
<rect class="g" x="98" y="70" width="15" height="53"/>
<text class="an" x="118" y="96.5" font-weight="normal">The second candle</text>
<text class="an" x="118" y="101" font-weight="normal">engulfing the first candle</text>
<line class="ad" x1="35" y1="33" x2="64" y2="76"/>
<line class="au" x1="127" y1="78" x2="149" y2="38"/>
<text class="pc" x="98" y="130.5">Traders can enter a long position if next day a bullish candle is formed</text>
<text class="pc" x="98" y="137.5">and can place a stop-loss at the low of the second candle</text>
<text class="pc" x="98" y="149.5">Below is an example of Bullish Engulfing Candlestick Pattern</text>
<rect x="12" y="220" width="164" height="25" fill="#f0e4f4" stroke="#c9b8d6" stroke-width=".4" stroke-dasharray="1,1"/>
<g id="k32"></g>
<path d="M104,180 L112,191" stroke="#d2272b" stroke-width="1.8" marker-end="url(#md)"/>
<text class="ft" x="12" y="254" textLength="172" lengthAdjust="spacingAndGlyphs">This is only for Educational purpose. Our company is not responsible for any kind of loss/gain made by our understanding. The most important thing to remember while</text>
<text class="ft" x="12" y="257.5" textLength="172" lengthAdjust="spacingAndGlyphs">using Candlestick Chart Patterns as a part of your technical analysis, is that they are not a guarantee that whatever price action is expected will actually come about. They are only</text>
<text class="ft" x="12" y="261" textLength="172" lengthAdjust="spacingAndGlyphs">an indication of what is likely to happen in the future. The Chart patterns can also be misinterpreted and they may change according to market conditions. Our WEBSITE INFO</text>
</g>

<!-- R3C3 Morning Star -->
<g transform="translate(647,936)">
<rect class="cb" x="0.5" y="0.5" width="195" height="270"/>
<rect fill="#d7e9cb" x="1" y="1" width="194" height="24"/>
<rect fill="#d7e9cb" x="1" y="250" width="194" height="20.5"/>
<text class="tt" x="98" y="18" textLength="167" lengthAdjust="spacingAndGlyphs">The Morning Star Candlestick Patterns</text>
<rect class="r" x="78" y="68" width="10" height="30"/>
<line x1="100" y1="97" x2="100" y2="115" stroke="#999" stroke-width=".6"/>
<rect class="g" x="95" y="104" width="10" height="6"/>
<rect class="g" x="112" y="63" width="11" height="31"/>
<line class="ad" x1="49" y1="34" x2="74" y2="72"/>
<line class="au" x1="125" y1="65" x2="148" y2="39"/>
<text class="pc" x="98" y="127.5">Traders can enter a long position if next day a bullish candle is formed</text>
<text class="pc" x="98" y="134.5">and can place a stop-loss at the low of the second candle.</text>
<text class="pc" x="98" y="148.5">Below is an example of Bullish Engulfing Candlestick Pattern.</text>
<rect x="11" y="224" width="164" height="17" fill="#f1e3f2" stroke="#ccc" stroke-width=".4"/>
<line x1="11" y1="218" x2="175" y2="218" stroke="#999" stroke-width=".5"/>
<g id="k33"></g>
<ellipse cx="58" cy="198" rx="9" ry="14" fill="#bcc26e" opacity=".55"/>
<path d="M32,181 L45,196" stroke="#d2272b" stroke-width="2" marker-end="url(#md)"/>
<path d="M84,193 L97,177" stroke="#1f8a4c" stroke-width="2" marker-end="url(#mu)"/>
<text class="ft" x="12" y="254" textLength="172" lengthAdjust="spacingAndGlyphs">This is only for Educational purpose. Our company is not responsible for any kind of loss/gain made by our understanding. The most important thing to remember while</text>
<text class="ft" x="12" y="257.5" textLength="172" lengthAdjust="spacingAndGlyphs">using Candlestick Chart Patterns as a part of your technical analysis, is that they are not a guarantee that whatever price action is expected will actually come about. They are only</text>
<text class="ft" x="12" y="261" textLength="172" lengthAdjust="spacingAndGlyphs">an indication of what is likely to happen in the future. The Chart patterns can also be misinterpreted and they may change according to market conditions. Our WEBSITE INFO</text>
</g>

<!-- R3C4 Morning Star (2) -->
<g transform="translate(859,936)">
<rect class="cb" x="0.5" y="0.5" width="195" height="270"/>
<rect fill="#d7e9cb" x="1" y="1" width="194" height="24"/>
<rect fill="#d7e9cb" x="1" y="250" width="194" height="20.5"/>
<text class="tt" x="98" y="18" textLength="167" lengthAdjust="spacingAndGlyphs">The Morning Star Candlestick Patterns</text>
<rect class="r" x="76" y="68" width="11" height="30"/>
<line x1="99.5" y1="97" x2="99.5" y2="115" stroke="#999" stroke-width=".6"/>
<rect class="g" x="94" y="104" width="11" height="6"/>
<rect class="g" x="112" y="63" width="11" height="31"/>
<line class="ad" x1="47" y1="34" x2="72" y2="72"/>
<line class="au" x1="125" y1="65" x2="148" y2="39"/>
<text class="pc" x="98" y="127.5">Traders can enter a long position if next day a bullish candle is formed</text>
<text class="pc" x="98" y="134.5">and can place a stop-loss at the low of the second candle.</text>
<text class="pc" x="98" y="148.5">Below is an example of Bullish Engulfing Candlestick Pattern.</text>
<rect x="11" y="224" width="164" height="17" fill="#f1e3f2" stroke="#ccc" stroke-width=".4"/>
<line x1="11" y1="218" x2="175" y2="218" stroke="#999" stroke-width=".5"/>
<g id="k34"></g>
<ellipse cx="58" cy="198" rx="9" ry="14" fill="#bcc26e" opacity=".55"/>
<path d="M32,181 L45,196" stroke="#d2272b" stroke-width="2" marker-end="url(#md)"/>
<path d="M84,193 L97,177" stroke="#1f8a4c" stroke-width="2" marker-end="url(#mu)"/>
<text class="ft" x="12" y="254" textLength="172" lengthAdjust="spacingAndGlyphs">This is only for Educational purpose. Our company is not responsible for any kind of loss/gain made by our understanding. The most important thing to remember while</text>
<text class="ft" x="12" y="257.5" textLength="172" lengthAdjust="spacingAndGlyphs">using Candlestick Chart Patterns as a part of your technical analysis, is that they are not a guarantee that whatever price action is expected will actually come about. They are only</text>
<text class="ft" x="12" y="261" textLength="172" lengthAdjust="spacingAndGlyphs">an indication of what is likely to happen in the future. The Chart patterns can also be misinterpreted and they may change according to market conditions. Our WEBSITE INFO</text>
</g>

<!-- R3C5 Bullish Counterattack -->
<g transform="translate(1072,936)">
<rect class="cb" x="0.5" y="0.5" width="195" height="270"/>
<rect fill="#d7e9cb" x="1" y="1" width="194" height="24"/>
<rect fill="#d7e9cb" x="1" y="250" width="194" height="20.5"/>
<text class="tt" x="98" y="18" textLength="171" lengthAdjust="spacingAndGlyphs">Bullish Counterattack Candlestick Patterns</text>
<text class="p" x="12" y="33.5" textLength="172" lengthAdjust="spacingAndGlyphs">The bullish counterattack line or bullish meeting line is a two candlestick pattern</text>
<text class="p" x="12" y="40.1" textLength="172" lengthAdjust="spacingAndGlyphs">that occurs after a downtrend and is considered a bottom reversal signal. The</text>
<text class="p" x="12" y="46.7" textLength="172" lengthAdjust="spacingAndGlyphs">bullish counterattack line is a less significant bottom reversal signal than the quite</text>
<text class="p" x="12" y="53.3" textLength="172" lengthAdjust="spacingAndGlyphs">similar piercing pattern. The first candlestick is a bearish candlestick. The second</text>
<text class="p" x="12" y="59.9" textLength="172" lengthAdjust="spacingAndGlyphs">candlestick opens far below the close of the first day's bearish candlestick but</text>
<text class="p" x="12" y="66.5" textLength="172" lengthAdjust="spacingAndGlyphs">then rallies back, closing at roughly the same price as the first day's candlestick</text>
<text class="p" x="12" y="73.1" textLength="172" lengthAdjust="spacingAndGlyphs">closing price. Therefore, the second day candlestick is a large bullish candlestick.</text>
<text class="p" x="12" y="79.7" textLength="172" lengthAdjust="spacingAndGlyphs">The large gap down on the second day gives bears confidence that the downward</text>
<text class="p" x="12" y="86.3" textLength="172" lengthAdjust="spacingAndGlyphs">trend will continue; but to the surprise of bears, rather than heading further down,</text>
<text class="p" x="12" y="92.9" textLength="172" lengthAdjust="spacingAndGlyphs">prices reverse and fill the gap and close at the same price level of the previous</text>
<text class="p" x="12" y="99.5">day's close. The bears gained no ground that day.</text>
<line class="w" x1="85.5" y1="121" x2="85.5" y2="162"/>
<rect class="r" x="81" y="129" width="9" height="29"/>
<line class="w" x1="98.5" y1="149" x2="98.5" y2="186"/>
<rect class="r" x="94" y="154" width="9" height="24"/>
<line class="w" x1="115" y1="174" x2="115" y2="225"/>
<rect class="g" x="111" y="178" width="8" height="41"/>
<line class="w" x1="129.5" y1="150" x2="129.5" y2="204"/>
<rect class="g" x="125" y="155" width="9" height="38"/>
<line class="w" x1="146.5" y1="126" x2="146.5" y2="179"/>
<rect class="g" x="142" y="131" width="9" height="37"/>
<line x1="45" y1="178" x2="118" y2="178" stroke="#2e6f7e" stroke-width="1.2"/>
<line x1="45" y1="219" x2="118" y2="219" stroke="#2e6f7e" stroke-width="1.2"/>
<text x="60" y="202" font-family="Liberation Sans, sans-serif" font-size="11" fill="#333">Gap</text>
<rect x="68.8" y="159" width="2.4" height="11" fill="#8b2f8f"/><path d="M66,169 L74,169 L70,177 Z" fill="#8b2f8f"/>
<rect x="68.8" y="228" width="2.4" height="11" fill="#8b2f8f"/><path d="M66,229 L74,229 L70,221 Z" fill="#8b2f8f"/>
<text class="ft" x="12" y="254" textLength="172" lengthAdjust="spacingAndGlyphs">This is only for Educational purpose. Our company is not responsible for any kind of loss/gain made by our understanding. The most important thing to remember while</text>
<text class="ft" x="12" y="257.5" textLength="172" lengthAdjust="spacingAndGlyphs">using Candlestick Chart Patterns as a part of your technical analysis, is that they are not a guarantee that whatever price action is expected will actually come about. They are only</text>
<text class="ft" x="12" y="261" textLength="172" lengthAdjust="spacingAndGlyphs">an indication of what is likely to happen in the future. The Chart patterns can also be misinterpreted and they may change according to market conditions. Our WEBSITE INFO</text>
</g>

<!-- R3C6 Falling Window -->
<g transform="translate(1280,936)">
<rect class="cb" x="0.5" y="0.5" width="195" height="270"/>
<rect fill="#d5ebf8" x="1" y="1" width="194" height="24"/>
<rect fill="#d5ebf8" x="1" y="250" width="194" height="20.5"/>
<text class="tt" x="98" y="18" textLength="161" lengthAdjust="spacingAndGlyphs">Falling Window Candlestick Patterns</text>
<text class="p" x="12" y="31.5" textLength="172" lengthAdjust="spacingAndGlyphs">When the two candles appear after the Falling Window, examine them. A Downside</text>
<text class="p" x="12" y="37.5" textLength="172" lengthAdjust="spacingAndGlyphs">Tasuki Gap pattern, may have arisen if they do not close the window or fill the gap (this</text>
<text class="p" x="12" y="43.5" textLength="172" lengthAdjust="spacingAndGlyphs">includes their shadows). The first and second candles must be bearish, but the third</text>
<text class="p" x="12" y="50">must be bullish in order to qualify.</text>
<line class="w" x1="85.5" y1="84" x2="85.5" y2="116"/>
<rect class="r" x="78" y="89" width="15" height="23"/>
<rect x="83" y="117" width="48" height="8" fill="#dcecf7" stroke="#7aa3c6" stroke-width=".5"/>
<line class="w" x1="104.5" y1="127" x2="104.5" y2="159"/>
<rect class="r" x="97" y="131" width="15" height="24"/>
<polyline points="131,118 152,192" fill="none" stroke="#888" stroke-width=".6"/>
<polyline points="129,121 114,168 124,152 133,190" fill="none" stroke="#888" stroke-width=".6"/>
<text class="an" x="78" y="115.5" font-size="2.5">Low</text>
<text class="an" x="111" y="113.5">Gap</text>
<text class="an" x="94" y="129.5" font-size="2.5">High</text>
<text class="an" x="152" y="120">Gap Filled</text>
<line class="ab" x1="151" y1="118" x2="134" y2="121"/>
<text class="an" x="16" y="150">Price will continue to move down</text>
<text class="an" x="16" y="156">without filling gap</text>
<line class="ab" x1="59" y1="157" x2="111" y2="167"/>
<text class="p" x="12" y="229.5" textLength="172" lengthAdjust="spacingAndGlyphs">After a significant downturn (as evidenced by the gap down), the bulls</text>
<text class="p" x="12" y="236" textLength="172" lengthAdjust="spacingAndGlyphs">attempted to force the price back up. However, they were unsuccessful, and the</text>
<text class="p" x="12" y="242.5">decline is projected to continue.</text>
<text class="ft" x="12" y="254" textLength="172" lengthAdjust="spacingAndGlyphs">This is only for Educational purpose. Our company is not responsible for any kind of loss/gain made by our understanding. The most important thing to remember while</text>
<text class="ft" x="12" y="257.5" textLength="172" lengthAdjust="spacingAndGlyphs">using Candlestick Chart Patterns as a part of your technical analysis, is that they are not a guarantee that whatever price action is expected will actually come about. They are only</text>
<text class="ft" x="12" y="261" textLength="172" lengthAdjust="spacingAndGlyphs">an indication of what is likely to happen in the future. The Chart patterns can also be misinterpreted and they may change according to market conditions. Our WEBSITE INFO</text>
</g>

<!-- ================= ROW 4 ================= -->
<!-- R4C0 On-Neck -->
<g transform="translate(20,1222)">
<rect class="cb" x="0.5" y="0.5" width="195" height="270"/>
<rect fill="#d7e9cb" x="1" y="1" width="194" height="24"/>
<rect fill="#d7e9cb" x="1" y="250" width="194" height="20.5"/>
<text class="tt" x="98" y="18" textLength="165" lengthAdjust="spacingAndGlyphs">On-Neck Pattern Candlestick Patterns</text>
<text class="p" x="12" y="34.5" textLength="172" lengthAdjust="spacingAndGlyphs">The on neck pattern occurs after a downtrend when a long real bodied bearish</text>
<text class="p" x="12" y="41" textLength="172" lengthAdjust="spacingAndGlyphs">candle is followed by a smaller real bodied bullish candle which gaps down on</text>
<text class="p" x="12" y="47.5">the open but then closes near the prior candle's close.</text>
<text class="p" x="12" y="60.5" textLength="172" lengthAdjust="spacingAndGlyphs">The pattern is called a neckline because the two closing prices are the same or</text>
<text class="p" x="12" y="67">almost the same across the two candles, forming a horizontal neckline.</text>
<rect class="r" x="74" y="134" width="14" height="22"/>
<rect class="g" x="99" y="157" width="13" height="33"/>
<line x1="68" y1="156.5" x2="124" y2="156.5" stroke="#555" stroke-width=".6"/>
<text x="127" y="160" font-family="Liberation Sans, sans-serif" font-size="5" font-weight="bold" fill="#444">Same Neckline</text>
<line class="ad" x1="24" y1="93" x2="64" y2="151"/>
<line class="au" x1="124" y1="151" x2="156" y2="100"/>
<text class="ft" x="12" y="254" textLength="172" lengthAdjust="spacingAndGlyphs">This is only for Educational purpose. Our company is not responsible for any kind of loss/gain made by our understanding. The most important thing to remember while</text>
<text class="ft" x="12" y="257.5" textLength="172" lengthAdjust="spacingAndGlyphs">using Candlestick Chart Patterns as a part of your technical analysis, is that they are not a guarantee that whatever price action is expected will actually come about. They are only</text>
<text class="ft" x="12" y="261" textLength="172" lengthAdjust="spacingAndGlyphs">an indication of what is likely to happen in the future. The Chart patterns can also be misinterpreted and they may change according to market conditions. Our WEBSITE INFO</text>
</g>

<!-- R4C1 Three Outside Up -->
<g transform="translate(229,1222)">
<rect class="cb" x="0.5" y="0.5" width="195" height="270"/>
<rect fill="#d7e9cb" x="1" y="1" width="194" height="24"/>
<rect fill="#d7e9cb" x="1" y="250" width="194" height="20.5"/>
<text class="tt" x="98" y="18" textLength="168" lengthAdjust="spacingAndGlyphs">Three Outside Up Candlestick Patterns</text>
<text class="p" x="12" y="35.5" textLength="172" lengthAdjust="spacingAndGlyphs">The Three Outside Up is multiple candlestick pattern which is formed after a</text>
<text class="p" x="12" y="42">downtrend indicating bullish reversal.</text>
<rect class="r" x="77" y="105" width="10" height="14"/>
<rect class="g" x="93" y="94" width="11" height="31"/>
<rect class="g" x="111" y="77" width="11" height="31"/>
<line class="ad" x1="40" y1="56" x2="69" y2="97"/>
<line class="au" x1="133" y1="84" x2="155" y2="46"/>
<text class="pc" x="98" y="140.5">Below is an example of Three Outside Up Candlesticks Pattern</text>
<line x1="11" y1="218" x2="175" y2="218" stroke="#bbb" stroke-width=".5"/>
<line x1="11" y1="222" x2="175" y2="222" stroke="#bbb" stroke-width=".5"/>
<line x1="11" y1="176" x2="175" y2="176" stroke="#ddd" stroke-width=".5"/>
<g id="k41"></g>
<ellipse cx="90" cy="196" rx="4" ry="6" fill="none" stroke="#e6a0a0" stroke-width=".6"/>
<rect x="170" y="171" width="12" height="8" fill="#17a05a"/>
<text class="p" x="12" y="243.5" textLength="172" lengthAdjust="spacingAndGlyphs">Traders can take a long position after the completion of this candlestick pattern.</text>
<text class="ft" x="12" y="254" textLength="172" lengthAdjust="spacingAndGlyphs">This is only for Educational purpose. Our company is not responsible for any kind of loss/gain made by our understanding. The most important thing to remember while</text>
<text class="ft" x="12" y="257.5" textLength="172" lengthAdjust="spacingAndGlyphs">using Candlestick Chart Patterns as a part of your technical analysis, is that they are not a guarantee that whatever price action is expected will actually come about. They are only</text>
<text class="ft" x="12" y="261" textLength="172" lengthAdjust="spacingAndGlyphs">an indication of what is likely to happen in the future. The Chart patterns can also be misinterpreted and they may change according to market conditions. Our WEBSITE INFO</text>
</g>

<!-- R4C2 White Marubozu -->
<g transform="translate(438,1222)">
<rect class="cb" x="0.5" y="0.5" width="195" height="270"/>
<rect fill="#d7e9cb" x="1" y="1" width="194" height="24"/>
<rect fill="#d7e9cb" x="1" y="250" width="194" height="20.5"/>
<text class="tt" x="98" y="18" textLength="164" lengthAdjust="spacingAndGlyphs">White Marubozu Candlestick Patterns</text>
<text class="p" x="12" y="32.5" textLength="172" lengthAdjust="spacingAndGlyphs">The White Marubozu is a single candlestick pattern that is formed after a</text>
<text class="p" x="12" y="39">downtrend indicating a bullish reversal.</text>
<text class="p" x="12" y="52.5" textLength="172" lengthAdjust="spacingAndGlyphs">This candlestick has a long bullish body with no upper or lower shadows which</text>
<text class="p" x="12" y="59" textLength="172" lengthAdjust="spacingAndGlyphs">shows that the bulls are exerting buying pressure and the markets may turn</text>
<text class="p" x="12" y="65.5">bullish.</text>
<rect class="g" x="93" y="151" width="15" height="44"/>
<line class="ad" x1="36" y1="119" x2="73" y2="172"/>
<line class="au" x1="126" y1="159" x2="154" y2="110"/>
<text class="ft" x="12" y="254" textLength="172" lengthAdjust="spacingAndGlyphs">This is only for Educational purpose. Our company is not responsible for any kind of loss/gain made by our understanding. The most important thing to remember while</text>
<text class="ft" x="12" y="257.5" textLength="172" lengthAdjust="spacingAndGlyphs">using Candlestick Chart Patterns as a part of your technical analysis, is that they are not a guarantee that whatever price action is expected will actually come about. They are only</text>
<text class="ft" x="12" y="261" textLength="172" lengthAdjust="spacingAndGlyphs">an indication of what is likely to happen in the future. The Chart patterns can also be misinterpreted and they may change according to market conditions. Our WEBSITE INFO</text>
</g>

<!-- R4C3 Inverted Hammer -->
<g transform="translate(647,1222)">
<rect class="cb" x="0.5" y="0.5" width="195" height="270"/>
<rect fill="#d7e9cb" x="1" y="1" width="194" height="24"/>
<rect fill="#d7e9cb" x="1" y="250" width="194" height="20.5"/>
<text class="tt" x="98" y="18" textLength="169" lengthAdjust="spacingAndGlyphs">Inverted Hammer Candlestick Patterns</text>
<text class="p" x="12" y="34.5" textLength="172" lengthAdjust="spacingAndGlyphs">An Inverted Hammer is formed at the end of the downtrend and gives a bullish</text>
<text class="p" x="12" y="41">reversal signal.</text>
<text class="p" x="12" y="54.5" textLength="172" lengthAdjust="spacingAndGlyphs">In this candlestick, the real body is located at the end and there is a long upper</text>
<text class="p" x="12" y="61">shadow. It is the inverse of the Hammer Candlestick pattern.</text>
<text class="p" x="12" y="74.5" textLength="172" lengthAdjust="spacingAndGlyphs">This pattern is formed when the opening and closing prices are near to each other</text>
<text class="p" x="12" y="81">and the upper shadow should be more than twice the real body.</text>
<line x1="105" y1="144" x2="105" y2="184" stroke="#1a8f52" stroke-width=".8"/>
<rect class="g" x="99" y="184" width="12" height="17"/>
<line class="ad" x1="39" y1="111" x2="75" y2="165"/>
<line class="au" x1="130" y1="165" x2="158" y2="117"/>
<text class="ft" x="12" y="254" textLength="172" lengthAdjust="spacingAndGlyphs">This is only for Educational purpose. Our company is not responsible for any kind of loss/gain made by our understanding. The most important thing to remember while</text>
<text class="ft" x="12" y="257.5" textLength="172" lengthAdjust="spacingAndGlyphs">using Candlestick Chart Patterns as a part of your technical analysis, is that they are not a guarantee that whatever price action is expected will actually come about. They are only</text>
<text class="ft" x="12" y="261" textLength="172" lengthAdjust="spacingAndGlyphs">an indication of what is likely to happen in the future. The Chart patterns can also be misinterpreted and they may change according to market conditions. Our WEBSITE INFO</text>
</g>

<!-- R4C4 Tweezer Bottom -->
<g transform="translate(859,1222)">
<rect class="cb" x="0.5" y="0.5" width="195" height="270"/>
<rect fill="#d7e9cb" x="1" y="1" width="194" height="24"/>
<rect fill="#d7e9cb" x="1" y="250" width="194" height="20.5"/>
<text class="tt" x="98" y="18" textLength="164" lengthAdjust="spacingAndGlyphs">Tweezer Bottom Candlestick Patterns</text>
<text class="p" x="12" y="34.5" textLength="172" lengthAdjust="spacingAndGlyphs">The Tweezer Bottom candlestick pattern is a bullish reversal candlestick pattern</text>
<text class="p" x="12" y="41">that is formed at the end of the downtrend.</text>
<text class="p" x="12" y="54.5" textLength="172" lengthAdjust="spacingAndGlyphs">It consists of two candlesticks, the first one being bearish and the second one being</text>
<text class="p" x="12" y="61">bullish candlestick.</text>
<text class="p" x="12" y="72.5" textLength="172" lengthAdjust="spacingAndGlyphs">Both the candlesticks make almost or the same low. When the Tweezer Bottom</text>
<text class="p" x="12" y="79">candlestick pattern is formed the prior trend is a downtrend.</text>
<rect class="r" x="85" y="142" width="15" height="40"/>
<line x1="112" y1="141" x2="112" y2="165" stroke="#1a8f52" stroke-width=".7"/>
<rect class="g" x="105" y="165" width="14" height="17"/>
<text x="120" y="187" font-family="Liberation Sans, sans-serif" font-size="4.6" fill="#333">Same Low</text>
<line class="ad" x1="39" y1="92" x2="76" y2="145"/>
<line class="au" x1="129" y1="147" x2="157" y2="99"/>
<text class="p" x="12" y="199.5" textLength="172" lengthAdjust="spacingAndGlyphs">A bearish tweezer candlestick is formed which looks like the continuation of the</text>
<text class="p" x="12" y="205.5" textLength="172" lengthAdjust="spacingAndGlyphs">ongoing downtrend. On the next day, the second day's bullish candle's low indicates</text>
<text class="p" x="12" y="211.5">a support level.</text>
<text class="p" x="12" y="219.5" textLength="172" lengthAdjust="spacingAndGlyphs">The bottom-most candles with almost the same low indicate the strength of the</text>
<text class="p" x="12" y="225.5" textLength="172" lengthAdjust="spacingAndGlyphs">support and also signal that the downtrend may get reversed to form an uptrend.</text>
<text class="p" x="12" y="231.5">Due to this the bulls step into action and move the price upwards.</text>
<text class="p" x="12" y="239.5">This bullish reversal is confirmed the next day when the bullish candle is formed.</text>
<text class="ft" x="12" y="254" textLength="172" lengthAdjust="spacingAndGlyphs">This is only for Educational purpose. Our company is not responsible for any kind of loss/gain made by our understanding. The most important thing to remember while</text>
<text class="ft" x="12" y="257.5" textLength="172" lengthAdjust="spacingAndGlyphs">using Candlestick Chart Patterns as a part of your technical analysis, is that they are not a guarantee that whatever price action is expected will actually come about. They are only</text>
<text class="ft" x="12" y="261" textLength="172" lengthAdjust="spacingAndGlyphs">an indication of what is likely to happen in the future. The Chart patterns can also be misinterpreted and they may change according to market conditions. Our WEBSITE INFO</text>
</g>

<!-- R4C5 Bullish Harami -->
<g transform="translate(1072,1222)">
<rect class="cb" x="0.5" y="0.5" width="195" height="270"/>
<rect fill="#d7e9cb" x="1" y="1" width="194" height="24"/>
<rect fill="#d7e9cb" x="1" y="250" width="194" height="20.5"/>
<text class="tt" x="98" y="18" textLength="156" lengthAdjust="spacingAndGlyphs">Bullish Harami Candlestick Patterns</text>
<text class="p" x="12" y="31.5" textLength="172" lengthAdjust="spacingAndGlyphs">The Bullish Harami is multiple candlestick chart pattern which is formed after a</text>
<text class="p" x="12" y="38">downtrend indicating bullish reversal.</text>
<rect class="r" x="82" y="86" width="10" height="28"/>
<rect class="g" x="97" y="94" width="9" height="13"/>
<rect class="g" x="111" y="74" width="10" height="30"/>
<line class="ad" x1="53" y1="52" x2="78" y2="86"/>
<line class="au" x1="124" y1="86" x2="143" y2="55"/>
<text class="pc" x="98" y="131.5">Below is an example of Bullish Harami Candlesticks Pattern.</text>
<line x1="12" y1="187" x2="176" y2="187" stroke="#ddd" stroke-width="1"/>
<polyline points="12,226 30,214 50,205 70,200 90,198 110,192 130,190 150,188 170,184" fill="none" stroke="#bbb" stroke-width=".7"/>
<g id="k45"></g>
<ellipse cx="165" cy="186" rx="3" ry="5" fill="none" stroke="#d33" stroke-width=".5"/>
<text class="p" x="12" y="239.5" textLength="172" lengthAdjust="spacingAndGlyphs">Traders can take a long position after the completion of this candlestick pattern.</text>
<text class="ft" x="12" y="254" textLength="172" lengthAdjust="spacingAndGlyphs">This is only for Educational purpose. Our company is not responsible for any kind of loss/gain made by our understanding. The most important thing to remember while</text>
<text class="ft" x="12" y="257.5" textLength="172" lengthAdjust="spacingAndGlyphs">using Candlestick Chart Patterns as a part of your technical analysis, is that they are not a guarantee that whatever price action is expected will actually come about. They are only</text>
<text class="ft" x="12" y="261" textLength="172" lengthAdjust="spacingAndGlyphs">an indication of what is likely to happen in the future. The Chart patterns can also be misinterpreted and they may change according to market conditions. Our WEBSITE INFO</text>
</g>

<!-- R4C6 Three Inside Up -->
<g transform="translate(1280,1222)">
<rect class="cb" x="0.5" y="0.5" width="195" height="270"/>
<rect fill="#d7e9cb" x="1" y="1" width="194" height="24"/>
<rect fill="#d7e9cb" x="1" y="250" width="194" height="20.5"/>
<text class="tt" x="98" y="18" textLength="161" lengthAdjust="spacingAndGlyphs">Three Inside Up Candlestick Patterns</text>
<text class="p" x="12" y="35.5" textLength="172" lengthAdjust="spacingAndGlyphs">The Three Inside Up is multiple candlestick pattern which is formed after a</text>
<text class="p" x="12" y="42">downtrend indicating bullish reversal.</text>
<rect class="r" x="82" y="93" width="11" height="29"/>
<rect class="g" x="97" y="100" width="10" height="15"/>
<rect class="g" x="112" y="81" width="10" height="30"/>
<line class="ad" x1="52" y1="59" x2="77" y2="94"/>
<line class="au" x1="127" y1="92" x2="145" y2="60"/>
<text class="pc" x="98" y="136.5">Below is an example of Three Inside Up Candlesticks Pattern.</text>
<g id="k46"></g>
<text class="p" x="12" y="241.5" textLength="172" lengthAdjust="spacingAndGlyphs">Traders can take a long position after the completion of this candlestick pattern.</text>
<text class="ft" x="12" y="254" textLength="172" lengthAdjust="spacingAndGlyphs">This is only for Educational purpose. Our company is not responsible for any kind of loss/gain made by our understanding. The most important thing to remember while</text>
<text class="ft" x="12" y="257.5" textLength="172" lengthAdjust="spacingAndGlyphs">using Candlestick Chart Patterns as a part of your technical analysis, is that they are not a guarantee that whatever price action is expected will actually come about. They are only</text>
<text class="ft" x="12" y="261" textLength="172" lengthAdjust="spacingAndGlyphs">an indication of what is likely to happen in the future. The Chart patterns can also be misinterpreted and they may change according to market conditions. Our WEBSITE INFO</text>
</g>
</svg>
<script>
(function(){
function rng(s){return function(){s=(s*16807)%2147483647;return (s-1)/2147483646;};}
var C=[
{id:'k00',x:12,y:152,w:160,h:82,n:34,ax:176,s:3,p:[[0,0.45],[0.08,0.3],[0.15,0.12],[0.22,0.45],[0.32,0.85],[0.4,0.7],[0.5,0.35],[0.6,0.05],[0.7,0.35],[0.8,0.55],[0.9,0.7],[1,0.95]]},
{id:'k01',x:11,y:140,w:158,h:92,n:30,ax:173,s:5,p:[[0,0.05],[0.1,0.15],[0.2,0.4],[0.3,0.6],[0.4,0.62],[0.5,0.75],[0.6,0.85],[0.68,0.95],[0.75,0.8],[0.85,0.6],[0.92,0.45],[1,0.25]]},
{id:'k02',x:10,y:158,w:168,h:75,n:30,ax:181,s:11,p:[[0,0.15],[0.15,0.4],[0.3,0.5],[0.45,0.45],[0.55,0.7],[0.65,0.85],[0.72,0.6],[0.8,0.5],[0.88,0.15],[0.95,0.1],[1,0.25]]},
{id:'k03',x:15,y:142,w:160,h:52,n:32,ax:178,s:13,p:[[0,0.05],[0.2,0.3],[0.35,0.6],[0.45,0.65],[0.55,0.75],[0.62,0.95],[0.7,0.6],[0.78,0.4],[1,0.45]]},
{id:'k05',x:12,y:162,w:165,h:58,n:28,ax:179,s:17,v:[224,18],p:[[0,0.75],[0.05,0.7],[0.1,0.2],[0.17,0.05],[0.25,0.0],[0.35,0.3],[0.45,0.5],[0.55,0.6],[0.65,0.7],[0.75,0.85],[0.85,0.95],[1,0.85]]},
{id:'k06',x:17,y:157,w:157,h:58,n:32,ax:178,s:19,v:[220,18],p:[[0,0.6],[0.06,0.95],[0.12,0.9],[0.18,0.55],[0.3,0.65],[0.38,0.5],[0.45,0.35],[0.55,0.2],[0.7,0.2],[0.8,0.1],[0.9,0.25],[1,0.7]]},
{id:'k10',x:11,y:152,w:165,h:75,n:40,ax:179,s:23,p:[[0,0.2],[0.08,0.45],[0.18,0.85],[0.25,0.75],[0.35,0.65],[0.45,0.55],[0.55,0.3],[0.62,0.1],[0.7,0.25],[0.8,0.4],[0.9,0.5],[1,0.55]]},
{id:'k11',x:13,y:150,w:160,h:78,n:55,ax:175,s:29,nz:0.1,p:[[0,0.7],[0.06,0.85],[0.15,0.75],[0.25,0.6],[0.35,0.55],[0.42,0.2],[0.5,0.15],[0.6,0.35],[0.7,0.45],[0.78,0.35],[0.85,0.3],[0.93,0.05],[1,0.2]]},
{id:'k12',x:12,y:140,w:165,h:65,n:24,ax:179,s:31,nz:0.06,v:[205,12,'#cfcfcf'],p:[[0,0.95],[0.1,0.95],[0.2,0.85],[0.35,0.75],[0.45,0.6],[0.55,0.65],[0.65,0.65],[0.72,0.45],[0.8,0.35],[0.85,0.05],[0.9,0.15],[1,0.2]]},
{id:'k13',x:12,y:147,w:160,h:85,n:30,ax:175,s:37,p:[[0,0.25],[0.12,0.2],[0.22,0.35],[0.32,0.45],[0.4,0.7],[0.5,0.85],[0.55,0.95],[0.62,0.85],[0.7,0.55],[0.75,0.3],[0.8,0.0],[0.88,0.2],[0.95,0.35],[1,0.3]]},
{id:'k15',x:24,y:145,w:150,h:50,n:60,ax:0,s:41,wk:0.2,nz:0.1,v:[205,25,'#e6d9b3'],p:[[0,0.7],[0.1,0.5],[0.2,0.3],[0.3,0.5],[0.4,0.7],[0.5,0.5],[0.6,0.6],[0.7,0.5],[0.8,0.7],[0.9,0.8],[1,0.5]]},
{id:'k20',x:12,y:147,w:162,h:60,n:40,ax:176,s:43,v:[208,20],p:[[0,0.75],[0.1,0.85],[0.2,0.8],[0.3,0.9],[0.35,0.95],[0.45,0.75],[0.55,0.65],[0.62,0.45],[0.7,0.2],[0.75,0.05],[0.85,0.3],[1,0.3]]},
{id:'k23',x:12,y:145,w:160,h:80,n:40,ax:175,s:47,p:[[0,0.05],[0.1,0.2],[0.2,0.4],[0.3,0.5],[0.4,0.6],[0.5,0.75],[0.58,0.8],[0.65,0.95],[0.72,0.75],[0.8,0.3],[0.85,0.15],[0.92,0.45],[1,0.6]]},
{id:'k25',x:12,y:145,w:160,h:75,n:26,ax:175,s:53,p:[[0,0.1],[0.1,0.12],[0.2,0.2],[0.3,0.3],[0.38,0.5],[0.45,0.85],[0.5,0.95],[0.55,0.7],[0.62,0.6],[0.7,0.5],[0.8,0.4],[0.9,0.25],[1,0.1]]},
{id:'k30',x:13,y:152,w:160,h:85,n:36,ax:175,s:59,p:[[0,0.4],[0.1,0.45],[0.2,0.5],[0.3,0.65],[0.38,0.72],[0.45,0.55],[0.5,0.25],[0.55,0.05],[0.62,0.2],[0.72,0.4],[0.8,0.6],[0.9,0.75],[1,0.95]]},
{id:'k31',x:11,y:160,w:150,h:80,n:36,ax:178,s:61,p:[[0,0.6],[0.1,0.6],[0.2,0.5],[0.3,0.45],[0.4,0.35],[0.5,0.2],[0.58,0.05],[0.65,0.15],[0.75,0.3],[0.85,0.5],[0.95,0.8],[1,0.7]]},
{id:'k32',x:12,y:165,w:160,h:52,n:40,ax:176,s:67,p:[[0,0.85],[0.1,0.8],[0.18,0.9],[0.25,0.65],[0.35,0.45],[0.45,0.4],[0.52,0.35],[0.58,0.1],[0.65,0.3],[0.75,0.25],[0.85,0.35],[1,0.45]]},
{id:'k33',x:11,y:167,w:162,h:50,n:38,ax:175,s:71,p:[[0,0.9],[0.08,0.85],[0.15,0.6],[0.22,0.3],[0.3,0.1],[0.38,0.3],[0.45,0.2],[0.52,0.6],[0.6,0.35],[0.7,0.5],[0.8,0.55],[0.9,0.75],[1,0.95]]},
{id:'k34',x:11,y:167,w:162,h:50,n:38,ax:175,s:73,p:[[0,0.9],[0.08,0.85],[0.15,0.6],[0.22,0.3],[0.3,0.1],[0.38,0.3],[0.45,0.2],[0.52,0.6],[0.6,0.35],[0.7,0.5],[0.8,0.55],[0.9,0.75],[1,0.95]]},
{id:'k41',x:11,y:150,w:160,h:62,n:55,ax:175,s:79,nz:0.1,p:[[0,0.9],[0.05,0.95],[0.1,0.75],[0.18,0.85],[0.25,0.7],[0.35,0.5],[0.45,0.4],[0.5,0.2],[0.55,0.1],[0.6,0.25],[0.65,0.45],[0.72,0.35],[0.78,0.4],[0.82,0.6],[0.9,0.8],[1,0.75]]},
{id:'k45',x:12,y:158,w:160,h:65,n:50,ax:176,s:83,nz:0.1,p:[[0,0.6],[0.1,0.5],[0.18,0.3],[0.25,0.05],[0.3,0.4],[0.38,0.7],[0.45,0.85],[0.5,0.95],[0.55,0.75],[0.6,0.6],[0.68,0.8],[0.75,0.7],[0.85,0.75],[0.92,0.9],[1,0.6]]},
{id:'k46',x:11,y:150,w:165,h:60,n:70,ax:178,s:89,nz:0.1,v:[213,15],p:[[0,0.35],[0.05,0.6],[0.1,0.75],[0.15,0.85],[0.2,0.6],[0.3,0.4],[0.35,0.15],[0.42,0.4],[0.5,0.3],[0.55,0.05],[0.6,0.35],[0.7,0.45],[0.78,0.55],[0.85,0.75],[0.92,0.85],[1,1]]}
];
C.forEach(function(o){
 var g=document.getElementById(o.id); if(!g) return;
 var R=rng(o.s), p=o.p, x=o.x, y=o.y, w=o.w, h=o.h, n=o.n, s='';
 function f(t){for(var i=1;i<p.length;i++){if(t<=p[i][0]){var a=p[i-1],b=p[i];return a[1]+(b[1]-a[1])*(t-a[0])/(b[0]-a[0]);}}return p[p.length-1][1];}
 function Y(q){return (y+h-q*h).toFixed(2);}
 var st=w/n, cw=Math.max(0.9,st*0.62), prev=f(0);
 if(o.ax){
  s+='<line x1="'+o.ax+'" x2="'+o.ax+'" y1="'+(y-4)+'" y2="'+(y+h+6)+'" stroke="#999" stroke-width=".5"/>';
  for(var k=y-2;k<y+h+5;k+=5.5){s+='<rect x="'+(o.ax+1.5)+'" y="'+k.toFixed(1)+'" width="5.5" height=".9" fill="#b8b8b8"/>';}
  var by=(o.v?o.v[0]+o.v[1]+3:y+h+6);
  s+='<line x1="'+x+'" x2="'+o.ax+'" y1="'+by+'" y2="'+by+'" stroke="#aaa" stroke-width=".5"/>';
  for(var k=x+8;k<o.ax-4;k+=20){s+='<rect x="'+k+'" y="'+(by+2)+'" width="3" height=".8" fill="#bbb"/>';}
 }
 for(var i=0;i<n;i++){
  var t=(i+0.5)/n, c=f(t)+(R()-0.5)*(o.nz||0.14);
  c=Math.max(0.03,Math.min(0.97,c));
  var op=prev+(R()-0.5)*0.03;
  var wk=o.wk||0.07;
  var hi=Math.max(op,c)+R()*wk, lo=Math.min(op,c)-R()*wk;
  var cx=x+st*(i+0.5);
  var up=c>=op, col=up?'#17a05a':'#e3282c';
  s+='<line x1="'+cx.toFixed(2)+'" x2="'+cx.toFixed(2)+'" y1="'+Y(hi)+'" y2="'+Y(lo)+'" stroke="#8a8a8a" stroke-width=".4"/>';
  var bh=Math.max(0.9,Math.abs(c-op)*h);
  s+='<rect x="'+(cx-cw/2).toFixed(2)+'" y="'+Y(Math.max(op,c))+'" width="'+cw.toFixed(2)+'" height="'+bh.toFixed(2)+'" fill="'+col+'"/>';
  if(o.v){var vh=(0.15+R()*0.5)*o.v[1]; if(R()<0.07) vh=o.v[1]*0.95; s+='<rect x="'+(cx-st*0.45).toFixed(2)+'" y="'+(o.v[0]+o.v[1]-vh).toFixed(2)+'" width="'+(st*0.9).toFixed(2)+'" height="'+vh.toFixed(2)+'" fill="'+(o.v[2]||(up?'#a9dcb9':'#f3b7b7'))+'"/>';}
  prev=c;
 }
 g.insertAdjacentHTML('beforeend', s);
});
})();
</script>
</body></html>
